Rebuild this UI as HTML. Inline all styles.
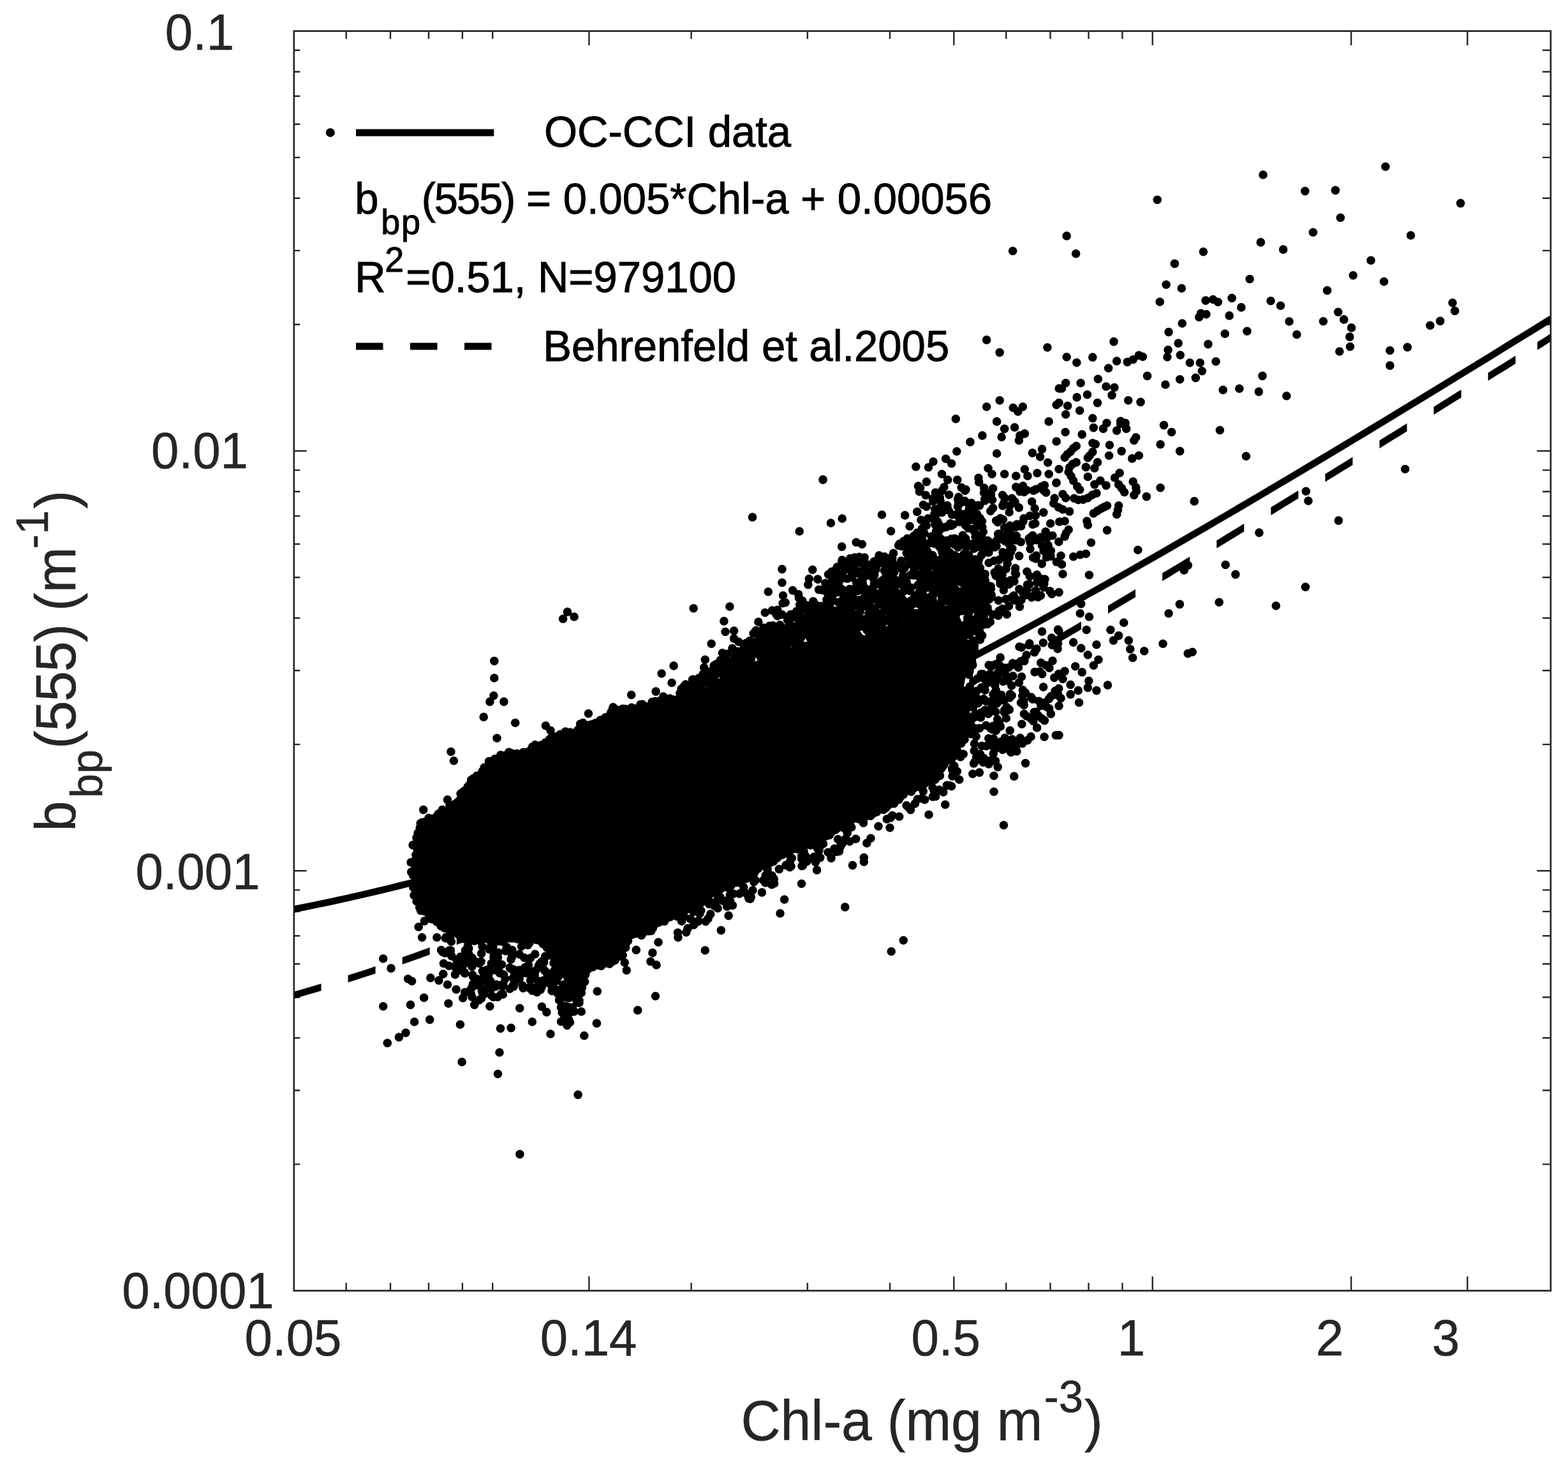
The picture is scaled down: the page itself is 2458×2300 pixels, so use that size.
<!DOCTYPE html>
<html lang="en"><head><meta charset="utf-8"><title>bbp(555) vs Chl-a</title>
<style>
html,body{margin:0;padding:0;background:#fff;}
body{width:2458px;height:2300px;overflow:hidden;}
svg{display:block;}
text{font-family:"Liberation Sans",sans-serif;}
.tk{font-size:78px;fill:#262626;stroke:#262626;stroke-width:0.5px;}
.lb{font-size:86px;fill:#262626;stroke:#262626;stroke-width:0.5px;}
.lg{font-size:67px;fill:#000;stroke:#000;stroke-width:0.9px;}
</style></head><body>
<svg width="2458" height="2300" viewBox="0 0 2458 2300">
<rect x="0" y="0" width="2458" height="2300" fill="#fff"/>

<clipPath id="plotclip"><rect x="460.8" y="48.7" width="1970.1" height="1974.9"/></clipPath>
<g id="ticks" stroke="#262626" stroke-width="2.4" fill="none"><path d="M923.4,2023.6v-22.4M923.4,48.7v22.4M1495.3,2023.6v-22.4M1495.3,48.7v22.4M1806.7,2023.6v-22.4M1806.7,48.7v22.4M2118.1,2023.6v-22.4M2118.1,48.7v22.4M2300.3,2023.6v-22.4M2300.3,48.7v22.4M542.7,2023.6v-12.4M542.7,48.7v12.4M612.0,2023.6v-12.4M612.0,48.7v12.4M672.0,2023.6v-12.4M672.0,48.7v12.4M724.9,2023.6v-12.4M724.9,48.7v12.4M772.2,2023.6v-12.4M772.2,48.7v12.4M1083.6,2023.6v-12.4M1083.6,48.7v12.4M1265.8,2023.6v-12.4M1265.8,48.7v12.4M1395.0,2023.6v-12.4M1395.0,48.7v12.4M1577.2,2023.6v-12.4M1577.2,48.7v12.4M1646.5,2023.6v-12.4M1646.5,48.7v12.4M1706.5,2023.6v-12.4M1706.5,48.7v12.4M1759.4,2023.6v-12.4M1759.4,48.7v12.4M460.8,1825.4h9.5M2430.9,1825.4h-12.8M460.8,1709.5h9.5M2430.9,1709.5h-12.8M460.8,1627.3h9.5M2430.9,1627.3h-12.8M460.8,1563.5h9.5M2430.9,1563.5h-12.8M460.8,1511.3h9.5M2430.9,1511.3h-12.8M460.8,1467.3h9.5M2430.9,1467.3h-12.8M460.8,1429.1h9.5M2430.9,1429.1h-12.8M460.8,1395.4h9.5M2430.9,1395.4h-12.8M460.8,1365.3h19.8M2430.9,1365.3h-21.6M460.8,1167.1h9.5M2430.9,1167.1h-12.8M460.8,1051.2h9.5M2430.9,1051.2h-12.8M460.8,969.0h9.5M2430.9,969.0h-12.8M460.8,905.2h9.5M2430.9,905.2h-12.8M460.8,853.0h9.5M2430.9,853.0h-12.8M460.8,809.0h9.5M2430.9,809.0h-12.8M460.8,770.8h9.5M2430.9,770.8h-12.8M460.8,737.1h9.5M2430.9,737.1h-12.8M460.8,707.0h19.8M2430.9,707.0h-21.6M460.8,508.8h9.5M2430.9,508.8h-12.8M460.8,392.9h9.5M2430.9,392.9h-12.8M460.8,310.7h9.5M2430.9,310.7h-12.8M460.8,246.9h9.5M2430.9,246.9h-12.8M460.8,194.7h9.5M2430.9,194.7h-12.8M460.8,150.7h9.5M2430.9,150.7h-12.8M460.8,112.5h9.5M2430.9,112.5h-12.8M460.8,78.8h9.5M2430.9,78.8h-12.8"/></g>
<g id="fit-lines" fill="none" stroke="#000" clip-path="url(#plotclip)">
<path stroke-width="10.6" d="M460.8,1425.5 L477.2,1422.3 L493.6,1418.9 L510.1,1415.5 L526.5,1412.0 L542.9,1408.4 L559.3,1404.7 L575.8,1400.9 L592.2,1397.0 L608.6,1393.1 L625.0,1389.0 L641.5,1384.9 L657.9,1380.7 L674.3,1376.3 L690.7,1371.9 L707.2,1367.4 L723.6,1362.8 L740.0,1358.1 L756.4,1353.3 L772.9,1348.4 L789.3,1343.5 L805.7,1338.4 L822.1,1333.2 L838.6,1327.9 L855.0,1322.6 L871.4,1317.1 L887.8,1311.6 L904.3,1305.9 L920.7,1300.2 L937.1,1294.3 L953.5,1288.4 L970.0,1282.4 L986.4,1276.3 L1002.8,1270.0 L1019.2,1263.7 L1035.7,1257.4 L1052.1,1250.9 L1068.5,1244.3 L1084.9,1237.6 L1101.4,1230.9 L1117.8,1224.0 L1134.2,1217.1 L1150.6,1210.1 L1167.1,1203.0 L1183.5,1195.8 L1199.9,1188.6 L1216.3,1181.2 L1232.8,1173.8 L1249.2,1166.3 L1265.6,1158.8 L1282.0,1151.1 L1298.5,1143.4 L1314.9,1135.6 L1331.3,1127.7 L1347.7,1119.8 L1364.2,1111.8 L1380.6,1103.7 L1397.0,1095.6 L1413.4,1087.4 L1429.9,1079.1 L1446.3,1070.8 L1462.7,1062.4 L1479.1,1053.9 L1495.6,1045.4 L1512.0,1036.8 L1528.4,1028.2 L1544.8,1019.5 L1561.3,1010.8 L1577.7,1002.0 L1594.1,993.2 L1610.5,984.3 L1627.0,975.4 L1643.4,966.4 L1659.8,957.4 L1676.2,948.3 L1692.7,939.2 L1709.1,930.0 L1725.5,920.8 L1741.9,911.6 L1758.4,902.3 L1774.8,893.0 L1791.2,883.7 L1807.6,874.3 L1824.1,864.9 L1840.5,855.4 L1856.9,845.9 L1873.3,836.4 L1889.8,826.9 L1906.2,817.3 L1922.6,807.7 L1939.0,798.1 L1955.5,788.4 L1971.9,778.7 L1988.3,769.0 L2004.7,759.3 L2021.2,749.5 L2037.6,739.7 L2054.0,729.9 L2070.4,720.1 L2086.9,710.2 L2103.3,700.4 L2119.7,690.5 L2136.1,680.6 L2152.6,670.6 L2169.0,660.7 L2185.4,650.7 L2201.8,640.7 L2218.3,630.7 L2234.7,620.7 L2251.1,610.7 L2267.5,600.7 L2284.0,590.6 L2300.4,580.5 L2316.8,570.5 L2333.2,560.4 L2349.7,550.3 L2366.1,540.1 L2382.5,530.0 L2398.9,519.9 L2415.4,509.7 L2431.8,499.5"/>
<path fill="#000" stroke="none" d="M460.8,1554.8 L467.9,1552.8 L475.0,1550.7 L482.1,1548.6 L489.3,1546.5 L496.4,1544.3 L503.5,1542.2 L503.5,1553.3 L496.4,1555.4 L489.3,1557.5 L482.1,1559.6 L475.0,1561.7 L467.9,1563.8 L460.8,1565.9ZM545.6,1529.1 L552.8,1526.8 L559.9,1524.5 L567.1,1522.2 L574.3,1519.9 L581.4,1517.5 L588.6,1515.1 L588.6,1526.3 L581.4,1528.7 L574.3,1531.0 L567.1,1533.3 L559.9,1535.7 L552.8,1538.0 L545.6,1540.2ZM630.7,1500.8 L637.9,1498.3 L645.0,1495.7 L652.2,1493.2 L659.4,1490.6 L666.5,1488.1 L673.7,1485.5 L673.7,1496.7 L666.5,1499.3 L659.4,1501.9 L652.2,1504.4 L645.0,1507.0 L637.9,1509.5 L630.7,1512.0ZM715.8,1469.9 L723.0,1467.1 L730.1,1464.4 L737.3,1461.7 L744.5,1458.9 L751.6,1456.1 L758.8,1453.3 L758.8,1464.7 L751.6,1467.5 L744.5,1470.3 L737.3,1473.0 L730.1,1475.8 L723.0,1478.5 L715.8,1481.2ZM800.9,1436.5 L808.1,1433.6 L815.2,1430.6 L822.4,1427.7 L829.6,1424.7 L836.7,1421.7 L843.9,1418.7 L843.9,1430.2 L836.7,1433.2 L829.6,1436.2 L822.4,1439.1 L815.2,1442.1 L808.1,1445.0 L800.9,1447.9ZM886.0,1400.8 L893.2,1397.6 L900.3,1394.5 L907.5,1391.4 L914.7,1388.2 L921.8,1385.0 L929.0,1381.8 L929.0,1393.4 L921.8,1396.6 L914.7,1399.8 L907.5,1402.9 L900.3,1406.1 L893.2,1409.2 L886.0,1412.3ZM971.1,1362.8 L978.3,1359.5 L985.4,1356.2 L992.6,1352.9 L999.8,1349.5 L1006.9,1346.2 L1014.1,1342.8 L1014.1,1354.5 L1006.9,1357.9 L999.8,1361.2 L992.6,1364.5 L985.4,1367.9 L978.3,1371.2 L971.1,1374.4ZM1056.2,1322.7 L1063.4,1319.3 L1070.5,1315.8 L1077.7,1312.3 L1084.9,1308.8 L1092.0,1305.3 L1099.2,1301.8 L1099.2,1313.6 L1092.0,1317.1 L1084.9,1320.6 L1077.7,1324.1 L1070.5,1327.6 L1063.4,1331.1 L1056.2,1334.5ZM1141.3,1280.8 L1148.5,1277.2 L1155.6,1273.6 L1162.8,1270.0 L1170.0,1266.3 L1177.1,1262.7 L1184.3,1259.0 L1184.3,1270.9 L1177.1,1274.6 L1170.0,1278.2 L1162.8,1281.8 L1155.6,1285.5 L1148.5,1289.1 L1141.3,1292.7ZM1226.4,1237.2 L1233.6,1233.5 L1240.7,1229.7 L1247.9,1225.9 L1255.1,1222.2 L1262.2,1218.4 L1269.4,1214.6 L1269.4,1226.6 L1262.2,1230.4 L1255.1,1234.1 L1247.9,1237.9 L1240.7,1241.7 L1233.6,1245.4 L1226.4,1249.2ZM1311.5,1192.1 L1318.7,1188.2 L1325.8,1184.3 L1333.0,1180.4 L1340.2,1176.5 L1347.3,1172.6 L1354.5,1168.7 L1354.5,1180.8 L1347.3,1184.7 L1340.2,1188.6 L1333.0,1192.5 L1325.8,1196.4 L1318.7,1200.2 L1311.5,1204.1ZM1396.6,1145.6 L1403.8,1141.6 L1410.9,1137.6 L1418.1,1133.7 L1425.3,1129.7 L1432.4,1125.7 L1439.6,1121.7 L1439.6,1133.8 L1432.4,1137.8 L1425.3,1141.8 L1418.1,1145.8 L1410.9,1149.8 L1403.8,1153.7 L1396.6,1157.7ZM1481.7,1097.9 L1488.9,1093.9 L1496.0,1089.8 L1503.2,1085.7 L1510.4,1081.7 L1517.5,1077.6 L1524.7,1073.5 L1524.7,1085.7 L1517.5,1089.8 L1510.4,1093.9 L1503.2,1097.9 L1496.0,1102.0 L1488.9,1106.1 L1481.7,1110.1ZM1566.8,1049.3 L1574.0,1045.2 L1581.1,1041.0 L1588.3,1036.9 L1595.5,1032.7 L1602.6,1028.5 L1609.8,1024.4 L1609.8,1036.6 L1602.6,1040.8 L1595.5,1045.0 L1588.3,1049.1 L1581.1,1053.3 L1574.0,1057.4 L1566.8,1061.5ZM1651.9,999.8 L1659.1,995.6 L1666.2,991.4 L1673.4,987.1 L1680.6,982.9 L1687.7,978.7 L1694.9,974.5 L1694.9,986.8 L1687.7,991.0 L1680.6,995.2 L1673.4,999.4 L1666.2,1003.7 L1659.1,1007.9 L1651.9,1012.1ZM1737.0,949.5 L1744.2,945.3 L1751.3,941.0 L1758.5,936.7 L1765.7,932.4 L1772.8,928.2 L1780.0,923.9 L1780.0,936.2 L1772.8,940.5 L1765.7,944.8 L1758.5,949.1 L1751.3,953.3 L1744.2,957.6 L1737.0,961.9ZM1822.1,898.6 L1829.3,894.3 L1836.4,890.0 L1843.6,885.7 L1850.8,881.4 L1857.9,877.0 L1865.1,872.7 L1865.1,885.1 L1857.9,889.4 L1850.8,893.7 L1843.6,898.1 L1836.4,902.4 L1829.3,906.7 L1822.1,911.0ZM1907.2,847.2 L1914.4,842.9 L1921.5,838.5 L1928.7,834.1 L1935.9,829.8 L1943.0,825.4 L1950.2,821.0 L1950.2,833.5 L1943.0,837.8 L1935.9,842.2 L1928.7,846.5 L1921.5,850.9 L1914.4,855.3 L1907.2,859.6ZM1992.3,795.3 L1999.5,790.9 L2006.6,786.6 L2013.8,782.2 L2021.0,777.8 L2028.1,773.4 L2035.3,769.0 L2035.3,781.4 L2028.1,785.8 L2021.0,790.2 L2013.8,794.6 L2006.6,799.0 L1999.5,803.4 L1992.3,807.8ZM2077.4,743.1 L2084.6,738.7 L2091.7,734.2 L2098.9,729.8 L2106.1,725.4 L2113.2,721.0 L2120.4,716.5 L2120.4,729.0 L2113.2,733.4 L2106.1,737.8 L2098.9,742.3 L2091.7,746.7 L2084.6,751.1 L2077.4,755.5ZM2162.5,690.5 L2169.7,686.1 L2176.8,681.6 L2184.0,677.2 L2191.2,672.7 L2198.3,668.3 L2205.5,663.8 L2205.5,676.3 L2198.3,680.8 L2191.2,685.2 L2184.0,689.6 L2176.8,694.1 L2169.7,698.5 L2162.5,703.0ZM2247.6,637.7 L2254.8,633.2 L2261.9,628.7 L2269.1,624.3 L2276.3,619.8 L2283.4,615.3 L2290.6,610.9 L2290.6,623.4 L2283.4,627.8 L2276.3,632.3 L2269.1,636.8 L2261.9,641.2 L2254.8,645.7 L2247.6,650.1ZM2332.7,584.6 L2339.9,580.1 L2347.0,575.6 L2354.2,571.2 L2361.4,566.7 L2368.5,562.2 L2375.7,557.7 L2375.7,570.2 L2368.5,574.7 L2361.4,579.2 L2354.2,583.7 L2347.0,588.1 L2339.9,592.6 L2332.7,597.1ZM2410.0,536.2 L2413.5,534.1 L2417.0,531.9 L2420.4,529.7 L2423.9,527.5 L2427.4,525.3 L2430.9,523.1 L2430.9,535.6 L2427.4,537.8 L2423.9,540.0 L2420.4,542.2 L2417.0,544.4 L2413.5,546.6 L2410.0,548.7Z"/>
</g>
<g id="scatter">
<path fill="#000" d="M645.6,1371.6 L645.6,1350.7 L650.0,1324.0 L658.6,1288.9 L672.8,1280.7 L700.3,1265.4 L721.9,1243.9 L743.0,1216.6 L763.5,1193.0 L778.3,1187.2 L795.7,1175.3 L816.9,1178.4 L835.4,1166.2 L850.5,1163.2 L874.5,1148.1 L895.8,1145.1 L911.0,1132.9 L938.1,1126.8 L959.2,1111.9 L991.8,1105.9 L1019.5,1100.5 L1034.3,1091.5 L1057.9,1090.7 L1058.4,1100.2 L1121.9,1070.1 L1166.8,1040.1 L1241.5,1025.2 L1332.6,1019.0 L1393.5,979.5 L1453.1,949.7 L1496.1,949.3 L1515.9,992.8 L1518.8,1034.1 L1509.8,1082.2 L1503.8,1142.4 L1485.9,1202.0 L1474.5,1217.7 L1451.0,1230.1 L1420.6,1245.4 L1390.5,1269.4 L1360.7,1281.3 L1330.4,1293.5 L1300.1,1311.7 L1270.1,1326.7 L1239.9,1338.8 L1209.4,1354.0 L1179.2,1375.1 L1149.4,1390.1 L1119.0,1402.3 L1088.7,1423.4 L1058.6,1438.5 L1032.0,1453.6 L1011.2,1465.4 L989.2,1472.0 L976.9,1499.5 L956.8,1513.7 L926.5,1520.0 L910.7,1535.6 L897.7,1549.8 L884.9,1535.7 L870.7,1516.7 L853.4,1486.6 L830.9,1473.2 L787.8,1477.3 L750.1,1477.3 L721.4,1473.3 L700.9,1458.8 L669.4,1437.8 L655.2,1423.7 L649.2,1409.7 L646.5,1394.7Z"/>
<path fill="none" stroke="#000" stroke-width="13.6" stroke-linecap="round" d="M758.2,1124.1h0M807.7,1133.2h0M779.0,1157.3h0M706.9,1178.5h0M711.4,1192.7h0M922.4,1118.7h0M855.4,1137.7h0M863.0,1145.3h0M701.5,1253.9h0M663.7,1269.6h0M600.7,1503.0h0M613.0,1518.1h0M639.6,1534.7h0M645.6,1538.3h0M674.9,1533.1h0M694.8,1527.1h0M687.9,1537.1h0M701.5,1543.7h0M715.1,1551.3h0M728.6,1555.8h0M725.6,1564.8h0M664.6,1564.2h0M643.5,1575.4h0M600.7,1577.8h0M703.0,1573.3h0M743.7,1575.4h0M751.3,1567.9h0M758.8,1558.8h0M767.9,1577.8h0M780.0,1563.3h0M649.6,1602.0h0M673.7,1598.6h0M721.4,1606.2h0M636.0,1619.2h0M625.4,1626.1h0M607.3,1635.2h0M784.5,1612.5h0M801.1,1611.6h0M783.0,1650.0h0M814.7,1580.8h0M834.3,1602.0h0M849.4,1578.4h0M856.9,1586.9h0M863.0,1621.0h0M881.1,1587.5h0M887.1,1602.6h0M911.3,1586.0h0M915.8,1623.7h0M936.3,1554.3h0M935.4,1604.4h0M999.7,1583.9h0M1027.5,1561.8h0M1029.0,1512.9h0M1019.9,1507.5h0M1022.9,1493.9h0M1032.0,1477.3h0M997.3,1489.4h0M982.2,1521.1h0M979.2,1509.0h0M656.2,1453.2h0M665.3,1444.1h0M661.6,1469.8h0M684.9,1469.8h0M693.9,1492.4h0M695.4,1510.5h0M713.5,1516.5h0M721.1,1521.1h0M740.7,1528.6h0M751.3,1510.5h0M761.8,1521.1h0M764.9,1534.7h0M784.5,1525.6h0M792.0,1534.7h0M804.1,1545.2h0M819.2,1545.2h0M776.9,1546.7h0M841.8,1555.8h0M834.3,1531.6h0M843.3,1537.7h0M825.2,1525.6h0M864.5,1545.2h0M876.5,1567.9h0M882.6,1576.9h0M891.6,1564.8h0M903.7,1552.8h0M912.8,1542.2h0M894.7,1534.7h0M647.1,1324.9h0M644.1,1352.0h0M644.7,1367.1h0M1105.3,1490.0h0M1130.3,1458.6h0M1142.1,1435.6h0M1176.2,1409.1h0M1229.6,1410.3h0M1223.0,1432.0h0M1256.5,1385.5h0M1280.6,1364.1h0M1324.7,1422.1h0M1336.5,1356.6h0M1354.3,1344.5h0M1354.3,1351.1h0M1303.0,1345.4h0M1311.1,1335.4h0M1397.2,1491.8h0M1416.2,1474.3h0M1456.0,1277.2h0M1481.7,1261.5h0M1434.3,1260.0h0M1558.0,1241.3h0M1573.4,1293.8h0M1589.7,1217.1h0M1607.5,1196.6h0M1558.0,1216.2h0M1564.1,1202.6h0M1637.1,1155.2h0M1655.2,1152.8h0M1503.7,1222.2h0M1491.6,1232.8h0M1464.5,1240.4h0M1524.8,1213.2h0M1535.4,1211.1h0M1395.0,1297.7h0M1358.8,1321.9h0M1364.9,1314.3h0M1319.6,1323.4h0M1313.5,1315.8h0M1280.3,1347.5h0M1238.1,1359.6h0M1221.5,1362.6h0M1200.4,1377.1h0M1078.1,1455.6h0M1063.0,1469.8h0M1094.7,1443.5h0M1144.5,1412.4h0M1691.5,1101.5h0M774.8,1036.4h0M774.8,1063.0h0M773.9,1090.7h0M767.9,1100.1h0M789.9,1100.1h0M882.6,970.3h0M889.5,959.4h0M900.1,967.0h0M1037.1,1056.0h0M1056.1,1043.9h0M1053.1,1070.5h0M1028.1,1084.1h0M989.7,1089.5h0M961.1,1108.8h0M1824.5,666.6h0M1836.6,677.5h0M1819.1,696.8h0M1849.6,707.4h0M1912.3,674.5h0M1953.4,715.2h0M2202.7,735.5h0M1819.1,764.7h0M1797.3,778.6h0M1872.2,785.9h0M1783.8,862.2h0M1735.5,831.4h0M1710.4,850.8h0M1707.4,901.5h0M2047.3,770.2h0M2050.9,785.3h0M1973.9,835.1h0M2098.3,816.1h0M1921.1,885.5h0M1936.8,900.6h0M2046.4,920.2h0M1911.1,944.3h0M2000.2,949.8h0M1849.3,947.4h0M1832.0,961.8h0M1761.7,976.3h0M1740.9,987.5h0M1753.6,996.6h0M1745.4,1004.1h0M1769.3,1004.1h0M1771.7,1017.7h0M1775.6,1031.3h0M1793.7,1020.7h0M1823.0,1009.2h0M1862.2,1024.6h0M1869.2,1022.2h0M1703.2,987.5h0M1707.4,967.0h0M1693.2,961.8h0M1694.7,946.7h0M1718.9,1010.7h0M1694.7,1016.2h0M1682.6,1007.1h0M1705.3,1026.7h0M1721.9,1034.3h0M1714.3,1043.3h0M1685.7,1044.8h0M1696.2,1053.9h0M1736.4,1074.1h0M1669.1,1052.4h0M1666.0,1064.5h0M1678.1,1073.5h0M1690.2,1082.6h0M1706.8,1067.5h0M1718.9,1082.6h0M1705.3,1078.1h0M1678.1,1088.6h0M1663.0,1094.7h0M1660.0,1106.7h0M1660.0,1152.6h0M1856.2,893.9h0M1862.2,886.4h0M1670.0,677.5h0M1696.2,681.1h0M1714.3,670.6h0M1729.4,672.1h0M1750.6,675.1h0M1765.6,672.1h0M1756.6,664.5h0M1780.7,685.7h0M1739.4,697.7h0M1712.8,694.7h0M1687.2,699.2h0M1678.1,708.3h0M1669.1,717.3h0M1758.1,707.4h0M1738.5,714.3h0M1708.3,714.3h0M1720.4,724.9h0M1715.8,734.0h0M1702.3,732.4h0M1705.3,747.5h0M1687.2,724.9h0M1675.1,740.0h0M1682.6,753.6h0M1688.7,762.6h0M1785.3,714.3h0M1774.7,718.9h0M1755.1,741.5h0M1747.5,749.0h0M1753.6,759.6h0M1762.6,771.7h0M1776.2,755.1h0M1780.7,764.1h0M1777.7,776.2h0M1724.9,753.6h0M1734.0,761.1h0M1715.8,759.6h0M1718.9,773.2h0M1705.3,780.7h0M1690.2,783.8h0M1666.0,774.7h0M1670.6,780.7h0M1735.5,792.8h0M1726.4,797.3h0M1714.3,804.9h0M1753.6,792.8h0M1750.6,806.4h0M1703.8,817.0h0M1705.3,823.0h0M1676.6,801.9h0M1666.0,798.8h0M1669.1,817.0h0M1675.1,830.5h0M1669.1,841.1h0M1682.6,872.8h0M1693.2,869.8h0M1702.3,868.3h0M1663.0,871.3h0M1664.5,884.9h0M1666.0,900.0h0M1660.0,928.6h0M1660.0,735.5h0M2171.9,261.3h0M1980.0,274.0h0M2045.8,299.6h0M2093.4,298.4h0M1814.2,313.2h0M2101.3,341.3h0M2058.4,364.2h0M2211.5,369.0h0M1672.1,369.9h0M1686.6,397.7h0M1976.3,379.9h0M2011.6,391.1h0M1886.4,394.7h0M1841.4,413.4h0M2149.0,408.3h0M2121.2,431.8h0M2169.5,441.5h0M1959.1,437.5h0M1828.1,446.3h0M1852.3,452.0h0M2080.5,455.4h0M1818.2,473.2h0M1890.0,471.1h0M1901.5,469.5h0M1909.3,473.5h0M1931.1,467.4h0M1945.8,481.9h0M1992.0,471.7h0M2007.4,479.2h0M1927.1,494.9h0M1882.5,491.3h0M1890.9,492.8h0M1879.7,497.3h0M2097.7,489.2h0M2106.7,500.9h0M2074.4,503.7h0M2021.0,504.0h0M2118.5,513.9h0M1853.2,507.0h0M1832.0,520.6h0M1954.9,519.3h0M1920.2,523.3h0M2032.8,524.5h0M2115.8,528.1h0M2116.4,543.5h0M2099.8,551.0h0M2241.9,510.3h0M2257.6,503.4h0M1746.0,535.6h0M1847.1,538.1h0M1893.9,539.6h0M2206.3,544.4h0M2178.9,549.5h0M2178.9,573.1h0M1831.1,548.6h0M1829.9,559.8h0M1850.2,556.8h0M1785.3,557.1h0M1791.3,559.2h0M1776.2,563.7h0M1767.2,567.6h0M1750.6,566.1h0M1712.8,560.1h0M1672.1,559.8h0M1687.8,568.5h0M1737.6,577.3h0M1865.3,568.8h0M1881.2,568.8h0M1884.3,581.8h0M1906.0,566.7h0M1874.3,592.4h0M1849.6,594.8h0M1826.9,603.0h0M1798.5,589.4h0M1979.0,589.4h0M1721.3,594.2h0M1694.1,600.5h0M1670.6,600.5h0M1664.5,609.0h0M1734.0,606.0h0M1746.9,607.5h0M1743.0,619.6h0M1704.4,618.7h0M1688.1,622.9h0M1917.2,611.4h0M1942.8,609.3h0M1973.3,614.1h0M2016.8,620.8h0M1768.7,627.7h0M1788.0,630.4h0M1720.4,631.6h0M1660.0,631.6h0M1673.6,636.2h0M1692.6,643.7h0M1670.6,649.7h0M1712.8,655.8h0M1756.6,660.3h0M1764.1,663.3h0M1734.9,663.3h0M1777.7,690.5h0M1717.3,696.5h0M1712.8,708.6h0M1705.3,717.7h0M1676.6,732.7h0M2289.6,318.6h0M2277.0,474.7h0M2280.6,487.4h0M1587.6,393.5h0M1546.6,532.9h0M1567.1,552.6h0M1641.9,544.7h0M1567.1,627.7h0M1546.6,637.7h0M1498.3,656.7h0M1588.2,639.2h0M1603.3,637.7h0M1595.8,645.2h0M1562.6,660.9h0M1644.1,660.9h0M1574.6,672.4h0M1590.6,670.0h0M1570.1,685.1h0M1539.9,682.9h0M1520.9,692.9h0M1598.8,682.9h0M1606.3,679.9h0M1597.3,690.5h0M1499.8,707.7h0M1562.6,711.0h0M1656.1,692.0h0M1482.6,719.2h0M1491.6,726.7h0M1463.0,723.7h0M1455.4,732.7h0M1435.8,731.8h0M1618.4,710.1h0M1633.5,704.1h0M1630.5,716.1h0M1642.6,725.2h0M1549.0,734.3h0M1555.0,743.3h0M1574.6,743.3h0M1592.7,746.3h0M1606.3,735.8h0M1610.9,746.3h0M1626.0,741.8h0M1476.5,743.3h0M1485.6,752.4h0M1500.7,752.4h0M1533.9,749.4h0M1452.4,755.4h0M1290.0,751.8h0M1644.1,743.3h0M1656.1,634.7h0M1660.1,609.0h0M1673.1,712.2h0M1682.6,702.7h0M1681.4,727.5h0M1679.0,746.5h0M1692.6,767.7h0M1712.2,776.0h0M1698.0,783.1h0M1683.8,781.3h0M1758.3,765.4h0M1781.3,770.1h0M1720.4,800.9h0M1731.1,794.9h0M1752.4,799.7h0M1659.5,795.5h0M1660.7,818.0h0M1671.3,835.8h0M724.1,1665.0h0M780.5,1683.8h0M906.1,1716.4h0M814.9,1809.6h0M885.1,1594.4h0M893.5,1602.8h0M899.9,1585.9h0M904.1,1569.0h0M910.4,1556.3h0M893.5,1579.6h0M897.8,1560.6h0M878.7,1552.1h0M883.0,1543.7h0M1290.0,752.1h0M1179.5,810.9h0M1253.2,833.0h0M1302.4,820.0h0M1320.2,813.0h0M1382.4,807.0h0M1418.6,807.9h0M1426.1,825.1h0M1396.6,832.7h0M1087.2,953.7h0M1143.9,951.0h0M1204.3,927.7h0M1226.0,892.4h0M1226.0,913.5h0M1227.5,933.8h0M1242.6,925.6h0M1251.7,931.7h0M1273.7,893.3h0M1268.3,907.5h0M1266.8,916.6h0M1281.9,908.1h0M1298.5,900.6h0M1319.6,857.1h0M1342.2,850.2h0M1351.3,853.2h0M1408.6,855.3h0M1431.3,857.1h0M1134.9,973.9h0M1137.0,990.5h0M1150.6,989.0h0M1150.6,1001.1h0M1115.2,1009.2h0M1105.3,1034.3h0M1132.4,1023.7h0M1140.0,1025.2h0M652.5,1369.5h0M650.5,1362.0h0M651.2,1359.1h0M651.5,1352.8h0M649.6,1351.1h0M652.4,1344.9h0M651.9,1340.2h0M654.8,1334.2h0M653.4,1329.2h0M655.6,1327.1h0M656.3,1322.2h0M658.2,1319.7h0M652.9,1313.6h0M656.3,1306.5h0M655.0,1306.1h0M658.2,1297.9h0M663.2,1297.6h0M659.2,1290.7h0M661.6,1289.5h0M665.6,1288.8h0M672.0,1282.6h0M679.0,1283.4h0M683.9,1280.8h0M687.0,1276.4h0M688.6,1275.2h0M693.4,1269.6h0M698.5,1273.2h0M704.9,1262.5h0M708.5,1264.9h0M713.7,1260.4h0M717.0,1258.1h0M721.8,1253.1h0M722.1,1244.4h0M725.6,1241.7h0M727.9,1239.8h0M733.2,1235.2h0M733.3,1233.4h0M737.2,1228.6h0M738.6,1222.9h0M741.9,1220.6h0M747.4,1216.3h0M750.6,1216.8h0M756.0,1210.0h0M756.2,1209.1h0M759.2,1203.3h0M763.3,1204.0h0M766.8,1198.1h0M766.5,1193.5h0M769.7,1194.4h0M775.6,1189.8h0M785.2,1187.5h0M784.7,1183.9h0M790.3,1184.8h0M797.1,1181.5h0M797.7,1179.2h0M800.6,1180.4h0M808.1,1182.1h0M810.3,1181.5h0M820.2,1179.6h0M826.7,1179.4h0M833.6,1173.1h0M834.6,1170.7h0M838.8,1167.9h0M844.9,1169.6h0M848.0,1168.3h0M854.7,1164.2h0M861.0,1164.4h0M861.6,1158.7h0M864.1,1156.8h0M872.0,1154.7h0M875.6,1153.6h0M878.3,1151.3h0M881.6,1154.0h0M886.4,1147.1h0M893.7,1148.1h0M904.2,1147.1h0M906.1,1144.2h0M909.1,1141.9h0M909.6,1135.0h0M913.9,1133.4h0M916.3,1136.8h0M924.4,1136.9h0M926.2,1136.2h0M933.4,1133.5h0M936.5,1134.3h0M941.1,1129.0h0M948.9,1124.9h0M952.3,1125.1h0M955.2,1122.1h0M958.1,1116.4h0M960.3,1111.9h0M964.8,1111.9h0M969.1,1113.5h0M975.8,1111.3h0M980.1,1111.5h0M987.0,1112.9h0M990.0,1109.2h0M996.4,1111.0h0M999.5,1111.4h0M1004.0,1104.5h0M1007.2,1104.2h0M1014.2,1108.6h0M1017.8,1107.7h0M1022.2,1100.5h0M1027.2,1099.5h0M1033.5,1099.4h0M1038.5,1097.9h0M1039.7,1092.0h0M1045.7,1097.1h0M1049.9,1095.1h0M1055.0,1097.1h0M1473.4,1216.2h0M1469.1,1217.3h0M1466.1,1222.1h0M1458.8,1225.4h0M1453.9,1225.0h0M1450.1,1227.8h0M1449.5,1228.8h0M1440.0,1227.9h0M1440.9,1233.5h0M1433.4,1235.5h0M1431.0,1234.4h0M1428.4,1241.3h0M1422.2,1239.6h0M1416.3,1245.8h0M1412.9,1248.3h0M1409.1,1253.7h0M1404.4,1249.6h0M1401.4,1259.9h0M1397.4,1258.4h0M1392.6,1262.5h0M1390.2,1262.9h0M1388.4,1266.9h0M1385.1,1269.5h0M1376.5,1270.4h0M1374.5,1273.0h0M1369.2,1275.1h0M1366.4,1276.9h0M1364.7,1279.2h0M1356.0,1280.9h0M1354.5,1281.0h0M1350.4,1280.9h0M1345.7,1284.0h0M1340.0,1282.8h0M1333.8,1286.5h0M1329.9,1286.3h0M1327.0,1293.8h0M1320.0,1294.2h0M1319.6,1296.8h0M1313.3,1297.9h0M1309.8,1300.9h0M1303.5,1304.7h0M1300.5,1309.2h0M1295.3,1310.7h0M1290.0,1312.8h0M1288.1,1315.0h0M1282.1,1318.3h0M1276.3,1317.0h0M1275.8,1321.5h0M1270.6,1325.1h0M1267.3,1322.6h0M1262.5,1325.1h0M1259.6,1326.3h0M1253.8,1331.2h0M1250.9,1331.5h0M1243.2,1331.1h0M1242.1,1331.6h0M1236.6,1339.7h0M1231.6,1337.5h0M1226.3,1340.2h0M1224.3,1340.6h0M1218.2,1345.3h0M1214.8,1346.5h0M1212.6,1350.6h0M1206.5,1353.3h0M1202.9,1357.7h0M1195.1,1356.5h0M1192.2,1357.6h0M1188.1,1362.3h0M1183.5,1365.5h0M1182.6,1368.4h0M1178.0,1372.5h0M1173.4,1372.7h0M1172.1,1372.3h0M1169.6,1377.6h0M1162.7,1381.4h0M1156.1,1379.9h0M1156.5,1383.8h0M1151.5,1383.8h0M1146.0,1388.8h0M1142.4,1392.5h0M1134.9,1390.7h0M1132.6,1389.4h0M1130.2,1393.5h0M1123.2,1394.8h0M1122.3,1398.5h0M1114.1,1401.3h0M1111.2,1400.8h0M1109.5,1407.6h0M1100.0,1407.3h0M1099.7,1415.0h0M1093.7,1413.3h0M1091.6,1419.7h0M1087.9,1415.7h0M1085.9,1421.5h0M1084.3,1425.2h0M1075.8,1426.1h0M1071.0,1425.2h0M1067.6,1431.9h0M1066.6,1432.9h0M1061.2,1436.6h0M1054.3,1434.6h0M1050.9,1437.4h0M1046.5,1438.6h0M1041.6,1444.5h0M1035.4,1444.7h0M1033.4,1445.9h0M1025.2,1450.5h0M1023.4,1454.9h0M1020.8,1459.4h0M1017.2,1459.6h0M1010.8,1460.6h0M1007.9,1460.6h0M1005.6,1466.5h0M996.0,1463.8h0M989.8,1465.6h0M984.5,1474.9h0M981.1,1479.5h0M980.7,1485.6h0M975.9,1486.2h0M974.4,1489.9h0M976.2,1497.5h0M972.8,1499.1h0M968.5,1499.2h0M964.2,1505.5h0M960.1,1507.5h0M955.5,1511.1h0M955.2,1509.5h0M949.8,1510.0h0M942.5,1514.5h0M938.5,1513.5h0M933.7,1512.0h0M929.4,1516.3h0M922.0,1519.4h0M917.8,1527.6h0M917.7,1528.1h0M910.5,1533.9h0M903.7,1534.7h0M904.6,1538.1h0M895.6,1541.8h0M899.0,1546.7h0M900.0,1543.6h0M896.4,1540.3h0M894.0,1535.1h0M890.0,1533.2h0M888.7,1529.4h0M885.3,1525.8h0M883.2,1522.6h0M880.0,1519.3h0M875.5,1516.9h0M871.4,1512.8h0M868.0,1509.9h0M870.2,1503.6h0M865.8,1499.0h0M862.6,1493.8h0M862.7,1493.3h0M857.2,1485.6h0M851.6,1480.3h0M849.4,1476.5h0M846.8,1475.2h0M840.9,1473.5h0M834.9,1472.5h0M828.3,1468.1h0M824.5,1467.5h0M818.6,1473.5h0M814.5,1470.5h0M810.8,1472.1h0M804.0,1471.0h0M799.4,1471.0h0M794.5,1470.9h0M788.9,1476.7h0M783.6,1472.9h0M783.1,1475.7h0M776.2,1474.1h0M770.5,1476.0h0M766.4,1473.3h0M763.5,1470.6h0M758.6,1471.4h0M750.2,1474.3h0M750.9,1472.6h0M743.5,1475.2h0M738.9,1472.5h0M734.9,1470.4h0M730.4,1473.0h0M723.5,1471.6h0M723.3,1466.7h0M719.4,1466.0h0M712.9,1461.7h0M706.1,1460.7h0M704.1,1457.1h0M700.7,1453.1h0M697.1,1455.1h0M691.3,1452.0h0M687.7,1446.4h0M684.5,1445.2h0M682.6,1441.2h0M676.5,1441.0h0M672.9,1432.5h0M672.7,1434.7h0M666.2,1429.0h0M659.6,1427.7h0M657.7,1422.8h0M657.8,1422.4h0M657.2,1413.9h0M653.2,1413.3h0M650.8,1404.5h0M649.0,1403.7h0M651.6,1397.2h0M647.8,1391.0h0M647.0,1385.9h0M651.5,1385.3h0M651.2,1378.0h0M647.5,1372.2h0M1070.6,1099.2h0M1068.6,1087.3h0M1078.9,1093.7h0M1069.0,1084.1h0M1082.5,1085.4h0M1092.8,1082.4h0M1088.5,1080.4h0M1093.6,1074.3h0M1101.0,1071.4h0M1114.1,1070.9h0M1112.5,1073.8h0M1117.9,1074.8h0M1116.8,1074.2h0M1130.2,1069.6h0M1120.3,1060.3h0M1128.5,1052.3h0M1140.9,1064.6h0M1141.0,1045.7h0M1152.4,1050.6h0M1143.6,1044.8h0M1159.6,1041.8h0M1161.8,1041.7h0M1165.1,1033.9h0M1173.9,1042.8h0M1170.5,1041.8h0M1172.7,1041.2h0M1193.1,1031.1h0M1193.7,1036.5h0M1199.1,1039.1h0M1204.6,1037.3h0M1209.7,1028.4h0M1211.4,1030.5h0M1208.4,1024.6h0M1213.0,1023.3h0M1217.6,1031.9h0M1230.3,1032.9h0M1234.5,1018.4h0M1233.9,1029.7h0M1239.0,1026.6h0M1244.3,1029.8h0M1249.3,1022.3h0M1261.1,1026.8h0M1270.9,1027.0h0M1260.0,1015.6h0M1277.0,1025.7h0M1282.5,1021.2h0M1283.0,1021.9h0M1296.3,1022.4h0M1288.0,1015.9h0M1295.6,1013.5h0M1308.7,1014.3h0M1303.3,1016.3h0M1319.2,1009.5h0M1310.3,1018.2h0M1320.4,1013.3h0M1325.1,1015.4h0M1331.7,1007.7h0M1340.5,1004.5h0M1334.8,1014.9h0M1346.0,1000.7h0M1356.0,1010.1h0M1362.9,992.1h0M1353.8,1003.0h0M1369.6,995.5h0M1362.7,997.5h0M1366.7,987.0h0M1376.0,984.4h0M1385.3,989.4h0M1383.6,973.0h0M1382.0,983.4h0M1396.5,968.8h0M1395.8,975.3h0M1407.3,963.7h0M1404.2,976.4h0M1409.0,966.1h0M1414.4,957.4h0M1422.9,960.0h0M1421.9,965.7h0M1429.0,960.1h0M1436.8,961.6h0M1444.3,959.1h0M1440.7,947.2h0M1453.4,951.9h0M1458.6,942.9h0M1454.0,951.4h0M1463.1,943.9h0M1466.3,948.2h0M1467.9,952.3h0M1479.1,942.7h0M1492.4,951.4h0M1492.0,944.5h0M1496.5,939.2h0M1505.2,949.9h0M1497.2,947.7h0M1508.1,957.8h0M1499.4,962.4h0M1513.5,978.8h0M1516.4,978.9h0M1507.7,986.9h0M1520.2,987.1h0M1523.3,990.3h0M1512.2,986.0h0M1516.2,995.1h0M1519.1,1009.8h0M1514.2,1015.6h0M1521.3,1023.1h0M1519.0,1013.5h0M1523.3,1034.6h0M1520.0,1028.0h0M1514.1,1041.5h0M1523.0,1036.9h0M1524.8,1042.6h0M1514.6,1054.9h0M1519.9,1052.2h0M1518.7,1057.6h0M1520.4,1076.4h0M1514.0,1082.7h0M1517.5,1085.7h0M1515.1,1090.5h0M1513.1,1094.7h0M1507.0,1097.4h0M1517.9,1104.1h0M1515.9,1099.5h0M1513.5,1118.2h0M1503.8,1115.7h0M1513.0,1115.6h0M1501.3,1133.4h0M1508.9,1122.8h0M1506.0,1130.3h0M1504.0,1139.2h0M1500.6,1142.5h0M1511.8,1152.7h0M1496.8,1156.2h0M1501.7,1165.1h0M1506.8,1165.5h0M1499.6,1170.3h0M1492.3,1172.9h0M1497.6,1173.6h0M1492.1,1189.2h0M1486.7,1192.2h0M1485.8,1190.0h0M1492.9,1206.9h0M1332.3,1002.7h0M1528.6,909.5h0M1320.0,945.8h0M1522.4,1038.7h0M1535.9,923.3h0M1166.6,1013.7h0M1292.1,999.0h0M1356.6,929.8h0M1310.2,1009.2h0M1548.1,978.4h0M1404.5,949.4h0M1483.4,923.8h0M1243.4,968.0h0M1324.3,987.7h0M1225.8,995.0h0M1293.5,983.2h0M1550.7,939.4h0M1514.2,926.5h0M1334.7,943.5h0M1438.5,943.1h0M1453.6,918.1h0M1466.8,914.6h0M1334.8,955.9h0M1522.6,1028.5h0M1523.7,955.3h0M1133.5,1058.4h0M1342.9,980.3h0M1136.9,1044.2h0M1478.3,916.0h0M1240.2,996.4h0M1150.4,1047.0h0M1476.6,908.5h0M1389.5,947.1h0M1525.5,954.5h0M1336.6,1000.1h0M1322.5,973.1h0M1523.6,974.7h0M1544.4,910.7h0M1282.5,993.9h0M1295.8,981.6h0M1386.8,945.7h0M1382.6,967.8h0M1430.6,942.9h0M1476.3,944.1h0M1529.7,1004.3h0M1207.4,1004.8h0M1423.4,923.5h0M1250.6,1012.4h0M1416.9,948.8h0M1507.0,890.0h0M1281.6,994.5h0M1433.7,933.6h0M1338.9,1002.0h0M1192.0,997.8h0M1354.5,937.0h0M1451.2,912.9h0M1218.1,983.9h0M1228.7,1018.9h0M1553.2,932.1h0M1374.0,987.6h0M1447.9,942.2h0M1185.6,1014.8h0M1528.7,891.0h0M1471.7,926.3h0M1479.3,909.3h0M1239.7,996.7h0M1140.1,1046.1h0M1441.2,904.9h0M1245.6,1007.9h0M1345.8,942.3h0M1505.1,928.8h0M1306.7,1008.4h0M1505.8,1150.5h0M1406.7,967.1h0M1378.9,971.3h0M1527.9,980.4h0M1362.3,930.4h0M1326.2,1009.8h0M1236.9,987.0h0M1434.3,897.5h0M1133.3,1041.7h0M1517.8,928.6h0M1207.1,1017.2h0M1244.5,1004.2h0M1412.2,953.1h0M1325.2,954.0h0M1224.8,1022.1h0M1327.7,983.6h0M1261.7,992.5h0M1267.1,981.8h0M1523.9,975.4h0M1263.7,975.7h0M1467.4,910.7h0M1296.3,969.7h0M1145.4,1043.4h0M1524.5,972.8h0M1201.1,990.8h0M1405.1,950.0h0M1275.7,1006.8h0M1171.8,1027.8h0M1333.1,1002.4h0M1267.1,1020.4h0M1215.1,1017.3h0M1380.9,939.2h0M1361.1,929.9h0M1442.8,923.7h0M1311.1,957.7h0M1282.0,963.3h0M1470.9,927.3h0M1169.8,1010.8h0M1219.8,1002.9h0M1492.1,918.8h0M1325.9,988.8h0M1390.7,931.5h0M1303.2,956.0h0M1420.2,918.7h0M1451.9,899.0h0M1535.8,990.1h0M1433.8,899.0h0M1528.3,889.7h0M1220.1,985.9h0M1530.4,970.0h0M1355.3,938.6h0M1078.4,1084.6h0M1283.6,967.1h0M1519.3,1051.0h0M1198.8,989.4h0M1542.3,933.4h0M1340.9,972.1h0M1488.7,944.5h0M1398.6,914.0h0M1223.6,995.1h0M1503.5,957.8h0M1478.8,917.0h0M1422.1,919.1h0M1303.8,990.5h0M1247.6,992.9h0M1509.3,1127.6h0M1463.4,908.4h0M1450.9,946.3h0M1543.9,918.6h0M1442.5,923.0h0M1226.1,1022.6h0M1332.7,975.1h0M1536.0,947.0h0M1156.3,1030.4h0M1509.0,882.0h0M1378.8,944.4h0M1199.8,1017.5h0M1271.6,988.6h0M1312.4,999.6h0M1520.2,881.3h0M1507.8,927.5h0M1274.8,973.2h0M1507.8,1138.3h0M1533.6,992.0h0M1324.2,959.7h0M1244.4,1020.0h0M1402.7,925.3h0M1501.3,928.4h0M1469.6,928.7h0M1506.1,884.1h0M1420.8,920.0h0M1406.3,929.7h0M1486.7,934.7h0M1364.4,960.4h0M1303.3,1000.4h0M1548.4,933.1h0M1235.6,995.4h0M1485.7,909.0h0M1333.1,977.4h0M1536.5,890.5h0M1332.9,945.6h0M1478.3,888.2h0M1503.5,1155.0h0M1274.7,1010.1h0M1518.2,933.2h0M1537.2,934.7h0M1265.2,970.5h0M1212.9,1022.3h0M1528.1,934.4h0M1461.9,937.1h0M1442.2,942.2h0M1489.8,940.3h0M1404.5,957.8h0M1331.2,938.7h0M1228.9,1018.1h0M1199.6,1012.1h0M1331.4,982.7h0M1399.6,948.9h0M1227.9,994.5h0M1469.9,929.2h0M1333.6,956.1h0M1511.8,1134.3h0M1230.9,1024.0h0M1446.2,897.5h0M1498.0,900.8h0M1401.6,949.3h0M1288.3,995.3h0M1414.9,912.6h0M1335.6,999.7h0M1541.0,913.3h0M1395.2,917.1h0M1523.0,978.7h0M1413.0,909.6h0M1352.9,977.5h0M1466.5,922.1h0M1349.6,1002.9h0M1408.5,937.8h0M1523.1,898.5h0M1489.4,915.3h0M1138.1,1049.6h0M1520.3,981.9h0M1220.5,1008.7h0M1542.2,979.2h0M1532.0,902.0h0M1294.2,997.4h0M1521.0,914.2h0M1478.7,938.3h0M1524.5,920.3h0M1363.4,951.0h0M1548.0,952.6h0M1260.2,980.4h0M1293.8,960.8h0M1276.8,1011.7h0M1385.3,944.1h0M1280.4,993.8h0M1330.2,985.1h0M1196.6,985.4h0M1253.2,1002.8h0M1326.3,993.2h0M1511.6,1110.6h0M1514.2,948.5h0M1456.1,899.4h0M1485.5,890.9h0M1291.2,1016.1h0M1367.6,922.4h0M1327.4,939.6h0M1445.5,949.6h0M1226.3,1004.3h0M1378.6,943.0h0M1189.9,1014.1h0M1431.8,946.4h0M1288.4,990.9h0M1407.5,934.3h0M1065.5,1093.4h0M1189.6,1021.8h0M1446.4,937.4h0M1311.6,1000.1h0M1364.0,962.1h0M1471.9,897.6h0M1315.2,994.4h0M1406.2,910.6h0M1275.7,968.0h0M1528.2,898.4h0M1217.4,983.1h0M1533.2,964.7h0M1193.5,1010.3h0M1500.3,896.0h0M1393.8,919.1h0M1300.9,995.1h0M1413.5,940.2h0M1532.7,936.6h0M1237.5,993.6h0M1350.9,1003.5h0M1517.6,972.1h0M1532.8,966.2h0M1211.0,984.2h0M1254.7,1010.0h0M1521.0,991.9h0M1346.3,940.7h0M1324.9,1006.7h0M1386.0,956.9h0M1520.0,933.8h0M1438.9,933.1h0M1133.0,1039.1h0M1200.5,1003.4h0M1292.5,953.0h0M1340.6,996.3h0M1151.4,1031.5h0M1452.0,891.2h0M1328.7,990.4h0M1512.0,915.1h0M1097.5,1074.2h0M1283.0,976.0h0M1512.1,953.2h0M1535.1,988.1h0M1320.5,941.7h0M1251.0,1019.5h0M1326.9,970.5h0M1174.1,1008.4h0M1280.7,973.5h0M1472.1,891.6h0M1521.7,1025.7h0M1518.4,1055.4h0M1447.6,902.5h0M1549.8,920.6h0M1307.6,968.8h0M1225.8,998.1h0M1512.5,1109.0h0M1507.2,910.8h0M1493.5,928.3h0M1317.9,968.7h0M1476.6,930.6h0M1533.1,893.9h0M1512.5,900.3h0M1276.7,1019.6h0M1511.3,948.3h0M1531.0,942.8h0M1526.1,980.3h0M1273.1,995.1h0M1320.9,980.8h0M1132.8,1049.6h0M1479.3,895.1h0M1554.1,936.1h0M1359.2,975.4h0M1431.7,902.0h0M1202.8,1012.1h0M1398.9,926.3h0M1127.6,1054.9h0M1511.8,1132.3h0M1228.9,991.5h0M1529.9,907.0h0M1192.6,993.3h0M1345.0,942.2h0M1525.2,1004.4h0M1333.0,948.2h0M1281.7,978.7h0M1140.0,1038.4h0M1209.9,1000.2h0M1325.8,999.1h0M1395.4,960.4h0M1487.3,889.0h0M1314.5,968.1h0M1370.4,939.4h0M1280.2,1014.0h0M1217.7,999.2h0M1531.5,944.8h0M1501.7,905.1h0M1367.2,989.6h0M1288.2,976.5h0M1397.3,953.2h0M1416.1,917.9h0M1247.3,994.4h0M1544.0,910.9h0M1268.9,992.9h0M1287.1,999.6h0M1511.3,925.8h0M1491.3,924.9h0M1539.6,977.8h0M1331.9,956.6h0M1281.1,960.3h0M1464.8,903.4h0M1316.4,961.2h0M1380.3,974.6h0M1349.6,978.4h0M1536.6,968.7h0M1327.1,989.8h0M1375.4,970.8h0M1442.5,919.6h0M1286.7,961.9h0M1394.5,947.2h0M1364.2,932.2h0M1237.2,981.8h0M1462.9,912.6h0M1400.0,960.6h0M1337.5,1000.5h0M1441.7,937.8h0M1222.6,979.7h0M1335.4,984.8h0M1298.9,1012.7h0M1236.9,969.3h0M1286.2,983.3h0M1230.7,1009.7h0M1362.6,981.7h0M1446.2,928.7h0M1417.3,911.1h0M1395.9,926.7h0M1131.7,1038.0h0M1329.7,980.5h0M1513.3,897.5h0M1414.9,939.8h0M1212.1,1010.7h0M1505.7,948.7h0M1329.5,1014.6h0M1334.8,988.9h0M1193.8,1010.6h0M1437.2,901.9h0M1482.9,908.1h0M1495.1,935.7h0M1296.6,977.6h0M1479.6,919.9h0M1339.8,940.6h0M1527.3,901.1h0M1165.5,1032.7h0M1325.2,979.5h0M1486.6,891.5h0M1187.1,1006.6h0M1429.9,945.6h0M1206.2,981.4h0M1283.8,990.5h0M1500.7,947.3h0M1212.9,1009.2h0M1253.1,968.8h0M1316.4,963.8h0M1244.9,1008.8h0M1169.5,1029.3h0M1281.3,964.5h0M1461.5,924.2h0M1452.6,902.9h0M1422.3,921.2h0M1328.2,1002.1h0M1510.1,925.9h0M1537.9,974.6h0M1484.1,904.3h0M1453.7,897.1h0M1445.3,937.1h0M1389.1,971.2h0M1527.4,973.6h0M1395.9,931.2h0M1318.5,999.0h0M1532.9,930.5h0M1395.2,939.4h0M1525.5,901.3h0M1399.3,952.7h0M1339.5,992.0h0M1341.0,979.3h0M1546.4,975.4h0M1395.4,958.1h0M1522.2,899.3h0M1228.8,997.1h0M1522.1,927.3h0M1411.9,931.9h0M1335.1,1000.6h0M1527.8,937.9h0M1353.4,971.1h0M1105.9,1060.8h0M1518.1,903.1h0M1411.5,944.0h0M1285.3,978.9h0M1448.4,939.2h0M1205.0,1012.4h0M1499.2,903.1h0M1361.5,935.8h0M1537.8,947.8h0M1114.5,1052.5h0M1538.5,917.4h0M1383.0,931.9h0M1357.1,950.5h0M1240.6,1004.9h0M1226.2,1010.9h0M1386.2,921.0h0M1172.4,1025.0h0M1438.9,917.2h0M1157.7,1034.7h0M1507.4,939.7h0M1197.0,1007.1h0M1410.1,913.8h0M1305.7,986.9h0M1388.3,933.8h0M1196.8,984.4h0M1383.4,934.2h0M1173.1,1035.6h0M1113.7,1053.4h0M1227.6,1001.1h0M1554.3,932.7h0M1524.7,972.6h0M1245.7,986.8h0M1509.3,1126.6h0M1394.4,960.4h0M1091.7,1070.9h0M1520.7,900.7h0M1496.5,1184.9h0M1527.3,941.6h0M1529.6,948.2h0M1345.1,996.3h0M1347.1,973.4h0M1361.8,961.7h0M1160.7,1030.4h0M1382.2,947.4h0M1178.7,1026.5h0M1236.1,1008.0h0M1489.3,907.1h0M1212.9,1015.8h0M1320.9,968.3h0M1136.0,1043.8h0M1101.8,1069.3h0M1213.8,991.5h0M1349.2,1001.0h0M1430.7,899.2h0M1346.1,997.9h0M1468.9,910.4h0M1254.8,1009.8h0M1407.1,940.2h0M1230.4,1018.3h0M1121.3,1049.3h0M1496.0,925.1h0M1359.2,988.2h0M1543.4,907.3h0M1336.3,966.7h0M1523.6,1007.0h0M1300.9,947.2h0M1296.0,994.4h0M1166.6,1021.7h0M1382.6,975.1h0M1482.1,907.4h0M1202.2,1025.2h0M1234.0,988.9h0M1462.6,914.1h0M1290.9,978.8h0M1175.2,1033.1h0M1292.0,985.1h0M1322.0,997.1h0M1426.3,926.3h0M1397.7,953.2h0M1490.7,903.9h0M1525.2,892.3h0M1515.5,883.2h0M1360.8,950.0h0M1489.6,906.5h0M1484.5,930.1h0M1299.4,1004.1h0M1232.7,995.2h0M1301.7,973.4h0M1470.2,892.5h0M1173.1,1026.4h0M1495.1,915.6h0M1340.3,991.5h0M1385.8,941.7h0M1334.8,974.7h0M1445.8,947.8h0M1237.0,995.3h0M1114.7,1058.4h0M1520.5,895.2h0M1418.3,945.1h0M1518.5,961.5h0M1518.1,919.4h0M1258.9,987.0h0M1529.8,896.9h0M1320.2,961.0h0M1456.3,915.8h0M1306.8,1007.8h0M1318.2,954.8h0M1444.0,909.3h0M1295.0,963.6h0M1277.5,1002.9h0M1401.9,926.0h0M1225.0,993.9h0M1276.6,1000.9h0M1190.3,1026.9h0M1478.9,894.8h0M1315.8,994.8h0M1163.3,1027.6h0M1486.2,907.5h0M1085.2,1076.1h0M1211.0,1014.7h0M1493.4,939.1h0M1455.0,937.2h0M1219.9,991.7h0M1191.3,994.4h0M1220.6,998.9h0M1307.4,957.9h0M1457.9,902.6h0M1279.7,959.8h0M1398.0,944.2h0M1102.2,1056.8h0M1321.2,981.2h0M1478.4,933.4h0M1282.6,1000.1h0M1118.6,1050.0h0M1065.9,1086.7h0M1372.0,953.3h0M1341.2,1009.4h0M1337.8,984.9h0M1291.6,1013.9h0M1199.1,1010.8h0M1344.6,963.8h0M1455.1,943.3h0M1207.9,1010.0h0M1449.2,902.0h0M1313.5,967.5h0M1123.0,1049.2h0M1170.5,1010.5h0M1255.0,1000.5h0M1328.5,955.8h0M1463.0,910.5h0M1227.5,992.5h0M1400.5,944.6h0M1181.1,993.3h0M1525.8,917.8h0M1303.7,965.8h0M1343.0,1006.3h0M1085.2,1084.5h0M1366.8,923.9h0M1151.3,1044.6h0M1247.9,981.9h0M1297.4,1016.4h0M1339.6,941.8h0M1338.7,992.0h0M1423.2,944.0h0M1480.6,901.2h0M1153.2,1026.6h0M1265.7,976.4h0M1239.5,980.4h0M1525.0,1004.5h0M1541.2,914.2h0M1281.8,977.9h0M1447.2,934.8h0M1248.7,1000.4h0M1144.1,1037.9h0M1116.2,1067.9h0M1252.7,973.1h0M1397.1,965.3h0M1454.6,892.4h0M1546.5,957.0h0M1321.2,1006.2h0M1489.8,938.1h0M1502.6,901.7h0M1526.6,934.0h0M1346.9,973.4h0M1440.4,929.7h0M1328.7,987.8h0M1526.0,1019.3h0M1467.1,889.8h0M1516.4,942.5h0M1306.0,989.9h0M1351.1,982.2h0M1497.4,934.7h0M1544.2,945.2h0M1494.0,891.6h0M1518.8,915.0h0M1363.5,964.5h0M1256.8,983.8h0M1540.6,975.6h0M1366.2,957.5h0M1333.2,1009.0h0M1384.2,976.8h0M1320.9,960.6h0M1288.1,1017.1h0M1421.3,912.5h0M1324.0,943.3h0M1474.5,918.9h0M1221.4,985.2h0M1319.6,948.1h0M1383.6,948.1h0M1286.9,960.7h0M1513.6,928.0h0M1526.6,928.8h0M1519.8,986.6h0M1140.2,1050.7h0M1531.3,882.4h0M1398.4,921.2h0M1519.0,983.2h0M1509.5,878.0h0M1381.1,941.8h0M1346.9,941.9h0M1303.8,1014.0h0M1527.3,1016.9h0M1522.7,1011.8h0M1518.0,1056.1h0M1410.7,952.9h0M1294.8,988.2h0M1298.7,996.1h0M1258.9,968.8h0M1302.5,975.0h0M1136.0,1036.7h0M1095.1,1075.9h0M1510.2,1127.7h0M1175.1,1014.5h0M1319.5,1013.5h0M1452.4,921.3h0M1329.7,978.3h0M1521.7,937.1h0M1468.0,927.0h0M1545.5,976.6h0M1288.0,982.3h0M1234.7,972.5h0M1476.7,921.0h0M1079.2,1086.1h0M1287.1,986.6h0M1338.4,950.3h0M1551.9,936.6h0M1486.0,913.4h0M1292.4,988.0h0M1075.0,1085.4h0M1131.2,1053.2h0M1427.2,901.5h0M1428.2,941.6h0M1306.3,1006.7h0M1460.8,944.2h0M1183.1,1006.7h0M1422.1,947.3h0M1251.7,981.2h0M1489.0,915.1h0M1310.7,995.3h0M1511.7,957.5h0M1325.1,1005.0h0M1214.1,1015.8h0M1172.7,1023.5h0M1536.3,912.0h0M1234.2,988.4h0M1468.2,927.7h0M1351.3,951.3h0M1540.9,947.9h0M1512.1,909.4h0M1175.0,1004.8h0M1201.9,1026.9h0M1450.2,938.3h0M1511.0,1101.0h0M1275.0,994.2h0M1168.2,1018.6h0M1397.1,938.1h0M1231.7,1015.9h0M1475.0,914.8h0M1521.0,890.1h0M1382.0,961.7h0M1315.4,993.2h0M1461.3,915.9h0M1542.3,944.5h0M1113.3,1063.4h0M1271.8,969.7h0M1215.8,1015.3h0M1099.6,1072.5h0M1380.6,971.6h0M1500.4,900.2h0M1524.3,891.8h0M1443.3,903.8h0M1289.0,1001.4h0M1487.4,892.5h0M1343.9,978.3h0M1533.0,956.8h0M1177.6,1032.5h0M1491.0,906.8h0M1428.2,921.2h0M1523.8,1038.2h0M1501.2,1164.4h0M1372.3,929.9h0M1389.8,943.1h0M1264.9,980.0h0M1446.1,941.0h0M1280.8,986.9h0M1539.6,996.4h0M1083.0,1081.3h0M1492.8,934.6h0M1523.5,975.6h0M1410.4,933.7h0M1514.7,886.8h0M1518.1,895.7h0M1219.3,993.2h0M1271.9,997.6h0M1521.5,907.4h0M1516.6,887.6h0M1385.5,974.3h0M1531.6,890.9h0M1227.8,1002.0h0M1314.8,977.1h0M1369.9,961.3h0M1494.7,942.6h0M1520.5,1047.3h0M1363.0,972.3h0M1287.5,980.4h0M1511.6,938.1h0M1376.9,977.4h0M1542.1,965.9h0M1405.8,916.1h0M1315.7,982.7h0M1291.3,985.4h0M1126.9,1049.4h0M1533.3,883.3h0M1335.4,961.2h0M1197.9,989.5h0M1394.2,924.9h0M1294.2,1010.9h0M1534.1,954.3h0M1095.6,1063.1h0M1471.5,928.7h0M1296.9,964.6h0M1501.5,882.5h0M1348.2,958.9h0M1264.5,1012.5h0M1188.6,1014.8h0M1549.0,958.0h0M1521.2,882.2h0M1523.9,1027.6h0M1465.3,903.4h0M1321.2,957.2h0M1389.7,940.7h0M1230.7,1015.4h0M1366.7,940.3h0M1372.4,957.3h0M1520.1,978.2h0M1527.4,1012.6h0M1383.8,923.6h0M1544.7,921.8h0M1270.0,1000.4h0M1498.2,924.2h0M1498.9,946.9h0M1140.8,1046.8h0M1459.9,916.5h0M1389.0,938.1h0M1278.7,975.9h0M1512.6,920.2h0M1487.7,926.8h0M1279.4,998.8h0M1521.9,971.4h0M1085.9,1073.9h0M1234.7,987.6h0M1169.6,1008.2h0M1211.7,980.7h0M1260.1,969.3h0M1472.9,899.3h0M1181.7,1019.7h0M1506.4,912.8h0M1475.6,892.4h0M1416.1,919.5h0M1529.2,893.8h0M1332.9,1014.3h0M1225.6,1002.0h0M1496.6,911.9h0M1331.5,958.3h0M1478.3,929.8h0M1417.1,926.6h0M1074.3,1083.4h0M1367.2,936.4h0M1406.3,940.5h0M1236.3,996.2h0M1322.0,1014.0h0M1312.1,1004.2h0M1486.3,895.9h0M1455.6,911.3h0M1308.7,979.9h0M1541.2,905.4h0M1222.0,1015.5h0M1366.3,963.7h0M1326.2,994.0h0M1487.2,883.9h0M1476.4,939.9h0M1399.8,962.9h0M1139.8,1043.5h0M1200.8,1017.9h0M1546.8,917.4h0M1478.2,889.8h0M1513.0,898.1h0M1541.4,948.1h0M1418.2,951.0h0M1536.4,1002.9h0M1507.4,902.6h0M1113.5,1066.5h0M1342.2,987.2h0M1368.5,981.0h0M1352.3,1002.2h0M1361.3,969.3h0M1524.8,1012.7h0M1276.9,977.4h0M1532.6,930.2h0M1522.3,918.7h0M1300.8,973.4h0M1189.5,995.4h0M1283.1,976.8h0M1120.1,1067.3h0M1475.5,899.7h0M1406.0,936.6h0M1506.7,957.2h0M1459.2,935.4h0M1541.0,953.3h0M1520.8,939.5h0M1531.6,899.9h0M1313.9,944.3h0M1257.0,997.6h0M1285.3,963.5h0M1071.6,1089.2h0M1250.1,986.8h0M1396.1,974.1h0M1335.9,990.3h0M1460.4,946.7h0M1426.8,951.4h0M1533.7,946.3h0M1226.5,986.5h0M1344.1,1000.1h0M1104.6,1056.1h0M1285.4,990.5h0M1414.5,955.6h0M1504.9,908.4h0M1521.7,947.3h0M1485.8,931.0h0M1326.1,967.1h0M1441.6,921.2h0M1284.3,1003.3h0M1337.8,964.2h0M1483.0,904.8h0M1513.7,924.0h0M1363.0,977.8h0M1126.3,1042.8h0M1278.1,992.6h0M1500.8,1177.1h0M1484.4,923.8h0M1233.9,984.0h0M1525.2,1009.4h0M1280.0,975.7h0M1510.8,912.3h0M1099.6,1077.7h0M1104.7,1060.7h0M1532.9,981.6h0M1338.6,1006.7h0M1348.6,944.2h0M1304.5,997.9h0M1420.5,955.8h0M1443.0,924.6h0M1406.8,956.2h0M1516.5,969.0h0M1449.9,938.7h0M1468.4,896.5h0M1469.0,899.4h0M1139.0,1046.3h0M1302.8,977.7h0M1211.2,998.0h0M1188.9,975.0h0M1157.9,1006.2h0M1252.4,937.4h0M1303.8,896.3h0M1218.8,956.2h0M1218.7,965.7h0M1231.2,944.8h0M1217.0,962.9h0M1210.4,957.1h0M1283.6,924.5h0M1253.6,948.1h0M1227.1,945.7h0M1226.1,963.5h0M1129.2,1035.0h0M1148.0,1016.6h0M1103.7,1046.5h0M1257.9,942.0h0M1199.3,960.5h0M1484.9,792.6h0M1438.9,862.4h0M1299.1,933.9h0M1438.1,847.9h0M1432.4,856.0h0M1261.8,951.0h0M1417.9,890.8h0M1472.8,852.4h0M1513.7,844.2h0M1443.9,833.2h0M1446.9,829.8h0M1445.5,845.5h0M1300.6,942.8h0M1495.9,853.5h0M1357.1,890.3h0M1368.7,905.1h0M1475.5,800.7h0M1304.6,935.6h0M1506.9,815.3h0M1433.2,853.2h0M1248.7,958.3h0M1309.4,906.9h0M1356.6,922.7h0M1122.5,1041.4h0M1381.8,878.8h0M1512.8,852.7h0M1068.1,1080.0h0M1136.6,1033.2h0M1466.9,819.2h0M1338.5,878.8h0M1496.6,844.2h0M1300.5,933.0h0M1521.9,805.8h0M1321.0,906.1h0M1468.8,842.8h0M1349.9,882.9h0M1413.4,856.4h0M1475.8,861.1h0M1310.8,923.3h0M1437.8,835.3h0M1343.5,882.0h0M1522.8,788.6h0M1474.2,844.4h0M1297.6,939.2h0M1378.4,913.5h0M1398.7,874.9h0M1275.2,951.3h0M1370.8,901.1h0M1435.8,887.5h0M1442.9,841.0h0M1400.1,893.5h0M1447.8,855.5h0M1517.3,789.3h0M1313.7,910.1h0M1358.3,899.1h0M1518.7,870.3h0M1345.2,895.7h0M1399.6,899.9h0M1267.1,959.1h0M1494.6,880.7h0M1184.1,989.9h0M1519.0,799.1h0M1465.6,798.3h0M1320.2,924.1h0M1501.4,794.1h0M1424.0,874.5h0M1421.2,867.3h0M1373.5,889.2h0M1335.7,905.4h0M1487.1,800.0h0M1502.0,809.4h0M1429.7,869.5h0M1085.5,1065.6h0M1416.4,851.4h0M1424.9,884.5h0M1354.2,920.4h0M1289.1,925.2h0M1525.0,852.9h0M1383.9,879.5h0M1386.4,872.8h0M1416.4,848.6h0M1259.4,952.5h0M1508.8,876.2h0M1471.9,878.0h0M1339.8,874.0h0M1441.6,858.8h0M1506.0,873.3h0M1516.7,808.9h0M1467.8,818.2h0M1526.7,860.1h0M1354.0,876.6h0M1457.3,851.5h0M1476.8,875.2h0M1400.6,867.2h0M1472.2,832.5h0M1304.5,906.1h0M1336.5,933.0h0M1393.0,889.5h0M1301.2,927.0h0M1423.8,854.7h0M1484.0,861.8h0M1527.5,833.4h0M1483.4,847.6h0M1346.2,899.5h0M1306.8,928.8h0M1514.6,857.9h0M1523.2,797.0h0M1334.6,880.0h0M1274.8,942.8h0M1302.1,916.8h0M1438.4,880.6h0M1452.2,823.9h0M1384.8,909.0h0M1375.4,878.4h0M1433.3,890.1h0M1250.8,959.3h0M1287.0,950.3h0M1332.3,884.0h0M1499.5,874.1h0M1119.1,1043.5h0M1312.2,889.1h0M1324.4,939.4h0M1394.7,911.2h0M1427.8,877.9h0M1437.6,845.5h0M1324.9,893.0h0M1446.9,849.5h0M1511.0,873.7h0M1432.4,840.4h0M1355.0,921.5h0M1362.1,896.2h0M1522.6,800.0h0M1443.6,870.1h0M1521.1,813.0h0M1485.1,873.5h0M1393.3,898.4h0M1422.3,844.4h0M1329.9,933.6h0M1512.2,785.4h0M1356.0,903.8h0M1384.4,876.4h0M1344.9,926.5h0M1460.9,884.6h0M1444.5,842.6h0M1464.2,852.3h0M1502.7,779.2h0M1297.4,940.2h0M1474.3,857.4h0M1520.8,803.4h0M1157.1,1021.4h0M1494.1,822.4h0M1315.6,900.5h0M1412.8,879.3h0M1259.7,954.2h0M1417.0,903.2h0M1460.3,848.7h0M1520.9,798.1h0M1368.0,905.4h0M1409.9,852.9h0M1496.9,870.9h0M1309.0,896.8h0M1443.6,887.4h0M1397.6,875.6h0M1506.1,788.5h0M1412.8,891.1h0M1372.5,888.2h0M1466.8,805.8h0M1426.1,865.0h0M1448.9,866.1h0M1383.0,882.8h0M1338.3,887.8h0M1310.8,928.9h0M1136.0,1032.8h0M1513.6,819.5h0M1471.3,797.2h0M1474.3,795.0h0M1461.8,884.0h0M1236.8,966.2h0M1411.9,854.7h0M1433.3,860.9h0M1489.3,866.6h0M1381.1,911.4h0M1471.5,826.0h0M1471.5,799.9h0M1495.7,874.5h0M1469.2,804.8h0M1512.8,812.0h0M1295.9,940.4h0M1072.3,1076.0h0M1501.6,858.0h0M1474.1,800.3h0M1086.9,1065.3h0M1445.5,828.6h0M1527.8,828.3h0M1503.3,846.4h0M1185.1,988.5h0M1378.0,870.8h0M1254.1,964.1h0M1321.6,887.9h0M1483.6,826.1h0M1517.9,828.2h0M1469.4,817.3h0M1406.7,888.7h0M1465.1,882.5h0M1506.4,852.9h0M1422.0,856.3h0M1306.8,905.7h0M1311.7,901.6h0M1315.6,909.7h0M1511.3,868.2h0M1492.6,806.9h0M1466.1,878.3h0M1292.7,922.3h0M1350.0,917.8h0M1451.0,860.7h0M1472.5,846.2h0M1356.1,890.0h0M1490.6,870.1h0M1443.9,832.7h0M1314.7,914.8h0M1480.0,826.9h0M1502.9,803.1h0M1461.9,870.5h0M1365.1,887.4h0M1354.3,921.2h0M1511.1,809.8h0M1265.4,949.4h0M1301.0,921.9h0M1328.5,907.3h0M1471.9,827.6h0M1456.1,874.5h0M1523.8,814.8h0M1477.1,880.9h0M1379.7,876.1h0M1360.6,885.2h0M1484.5,881.6h0M1387.5,875.1h0M1511.2,806.5h0M1396.9,874.0h0M1507.6,816.3h0M1480.5,854.6h0M1509.3,839.4h0M1397.9,897.2h0M1462.9,813.7h0M1495.6,874.4h0M1472.1,856.8h0M1331.9,923.6h0M1311.4,898.8h0M1370.7,917.5h0M1348.0,881.9h0M1434.9,875.6h0M1487.0,852.6h0M1477.0,865.9h0M1455.9,852.0h0M1491.1,824.3h0M1353.4,905.9h0M1444.8,842.5h0M1342.6,913.7h0M1387.2,879.6h0M1340.0,922.7h0M1332.7,875.6h0M1517.0,851.5h0M1502.4,787.1h0M1523.5,797.0h0M1422.3,851.9h0M1387.8,905.7h0M1239.6,963.2h0M1404.5,909.6h0M1280.6,953.7h0M1248.0,961.5h0M1399.7,882.8h0M1296.9,929.7h0M1448.6,888.7h0M1476.8,803.4h0M1454.8,812.8h0M1415.6,902.0h0M1375.9,882.4h0M1351.1,909.4h0M1355.2,874.1h0M1524.8,803.9h0M1332.4,879.9h0M1352.2,914.2h0M1504.0,818.3h0M1276.0,959.5h0M1473.3,847.9h0M1517.0,872.0h0M1526.9,797.1h0M1455.2,875.4h0M1501.1,877.7h0M1326.1,906.8h0M1386.4,894.7h0M1381.6,918.2h0M1433.0,894.3h0M1512.7,806.0h0M1467.3,833.0h0M1341.0,879.6h0M1293.9,914.3h0M1413.3,890.5h0M1464.9,805.8h0M1471.1,820.7h0M1472.1,803.1h0M1454.0,864.8h0M1451.7,867.5h0M1397.5,886.6h0M1483.9,857.2h0M1326.2,882.0h0M1501.5,782.6h0M1465.8,822.5h0M1469.4,804.4h0M1261.3,952.5h0M1427.3,852.9h0M1402.0,896.6h0M1320.9,901.0h0M1477.1,863.9h0M1525.4,795.4h0M1370.3,880.3h0M1513.3,823.4h0M1526.6,805.6h0M1423.8,861.4h0M1434.8,880.6h0M1491.2,881.1h0M1322.2,934.6h0M1426.5,849.7h0M1387.1,885.7h0M1491.0,845.0h0M1436.8,850.6h0M1305.1,913.2h0M1310.6,915.8h0M1462.2,880.4h0M1346.9,873.2h0M1402.8,910.7h0M1411.4,852.6h0M1370.4,914.9h0M1271.4,958.1h0M1489.5,820.8h0M1372.9,893.1h0M1074.7,1073.0h0M1449.2,879.7h0M1440.3,862.0h0M1448.8,854.0h0M1311.1,891.9h0M1320.1,878.0h0M1444.1,885.4h0M1278.4,947.8h0M1450.9,866.1h0M1519.4,815.4h0M1265.2,956.6h0M1319.7,879.9h0M1334.9,896.4h0M1460.1,841.1h0M1449.0,836.1h0M1591.4,898.0h0M1592.5,846.9h0M1556.1,963.6h0M1534.7,876.8h0M1550.1,882.5h0M1541.3,833.7h0M1592.0,826.7h0M1553.1,919.4h0M1529.0,841.7h0M1548.4,847.6h0M1578.3,963.3h0M1548.0,866.0h0M1555.5,783.8h0M1571.8,792.9h0M1531.6,818.7h0M1551.9,920.5h0M1573.3,925.1h0M1541.7,853.1h0M1565.3,941.4h0M1591.6,890.9h0M1578.7,911.7h0M1567.7,909.4h0M1528.6,877.1h0M1575.7,848.4h0M1539.8,826.3h0M1561.1,902.8h0M1583.1,824.0h0M1589.8,940.8h0M1577.1,891.9h0M1582.8,834.8h0M1571.6,776.3h0M1582.1,853.1h0M1538.6,870.4h0M1563.6,845.8h0M1577.6,842.8h0M1564.6,837.3h0M1562.0,856.3h0M1532.8,853.8h0M1558.3,879.2h0M1538.8,854.8h0M1582.9,793.3h0M1571.7,873.6h0M1582.1,873.8h0M1583.2,862.6h0M1570.1,913.6h0M1575.0,780.9h0M1536.1,812.2h0M1551.5,773.6h0M1589.2,933.9h0M1566.0,957.7h0M1559.1,897.6h0M1548.1,863.2h0M1568.1,812.6h0M1542.7,859.5h0M1564.8,965.2h0M1556.5,796.6h0M1552.8,801.2h0M1539.4,817.3h0M1553.3,850.8h0M1590.9,941.3h0M1586.9,860.0h0M1546.4,852.1h0M1586.3,781.4h0M1592.7,763.6h0M1549.7,774.8h0M1542.5,772.5h0M1592.6,900.6h0M1552.8,773.1h0M1591.1,788.3h0M1585.8,840.1h0M1549.9,866.3h0M1569.4,910.6h0M1544.6,850.0h0M1543.6,782.7h0M1566.3,837.0h0M1582.1,803.0h0M1584.0,840.3h0M1536.8,840.3h0M1571.9,865.9h0M1563.9,818.6h0M1544.1,784.9h0M1553.5,774.9h0M1584.1,909.7h0M1584.6,865.8h0M1582.9,834.3h0M1538.0,842.0h0M1594.0,822.1h0M1569.6,845.5h0M1576.4,867.7h0M1586.3,936.3h0M1538.0,842.2h0M1588.5,842.2h0M1565.9,877.9h0M1544.2,900.1h0M1561.6,816.3h0M1571.3,954.6h0M1590.7,786.2h0M1573.5,789.0h0M1542.8,772.3h0M1574.6,827.3h0M1536.0,858.0h0M1535.5,792.6h0M1593.3,840.2h0M1581.6,867.5h0M1539.6,843.9h0M1581.8,916.3h0M1581.5,950.1h0M1533.5,792.3h0M1559.3,857.9h0M1584.7,838.7h0M1552.3,975.0h0M1576.6,872.7h0M1576.9,839.5h0M1579.1,883.6h0M1548.6,851.6h0M1556.6,765.8h0M1573.1,894.3h0M1531.6,806.1h0M1567.9,915.1h0M1576.8,939.4h0M1564.9,891.5h0M1582.1,843.0h0M1572.4,814.5h0M1568.2,959.7h0M1553.4,923.1h0M1589.9,911.5h0M1571.0,901.2h0M1647.4,863.6h0M1656.3,881.0h0M1619.0,822.1h0M1614.3,808.7h0M1631.8,843.9h0M1624.0,767.1h0M1604.9,812.7h0M1630.0,910.2h0M1603.6,761.7h0M1623.4,926.0h0M1610.4,916.9h0M1639.8,772.1h0M1633.2,883.9h0M1617.6,786.5h0M1615.0,860.8h0M1640.4,873.7h0M1619.5,874.3h0M1616.4,841.8h0M1649.9,839.8h0M1615.0,850.4h0M1609.5,768.5h0M1636.7,915.4h0M1610.0,924.3h0M1625.7,913.5h0M1600.6,825.0h0M1636.3,768.9h0M1645.9,926.9h0M1600.3,849.8h0M1636.0,863.6h0M1653.1,781.1h0M1651.7,789.2h0M1622.0,797.0h0M1613.1,844.4h0M1648.8,931.1h0M1631.3,842.4h0M1631.4,933.8h0M1632.4,763.1h0M1623.3,808.2h0M1626.4,910.3h0M1643.1,855.1h0M1609.9,896.2h0M1620.2,769.1h0M1633.4,855.1h0M1603.9,817.5h0M1625.5,901.1h0M1617.3,936.8h0M1596.0,941.1h0M1639.2,833.6h0M1607.7,932.9h0M1632.1,843.7h0M1597.3,795.9h0M1622.8,820.8h0M1613.6,916.2h0M1616.4,935.3h0M1635.9,921.0h0M1641.0,843.7h0M1602.8,928.1h0M1659.8,849.4h0M1647.1,872.1h0M1637.4,760.8h0M1635.8,803.4h0M1623.7,876.0h0M1637.9,908.1h0M1646.6,820.8h0M1598.9,770.7h0M1614.4,903.8h0M1637.3,769.9h0M1601.0,940.7h0M1618.9,839.5h0M1597.7,871.6h0M1631.6,907.2h0M1627.2,936.1h0M1598.4,951.3h0M1624.5,871.1h0M1605.3,771.4h0M1624.4,846.6h0M1597.8,923.5h0M1443.9,815.3h0M1507.2,764.4h0M1466.4,772.3h0M1439.4,762.0h0M1442.6,765.1h0M1437.7,802.4h0M1514.0,767.5h0M1473.3,779.9h0M1656.1,756.7h0M1441.2,770.6h0M1451.1,776.4h0M1468.4,777.8h0M1462.3,781.9h0M1487.7,775.8h0M1476.7,769.4h0M1512.8,769.3h0M1474.1,785.5h0M1447.3,791.5h0M1479.9,763.7h0M1655.8,757.1h0M1534.7,755.9h0M1542.7,765.1h0M1452.4,794.2h0M1462.7,785.9h0M1550.1,1042.8h0M1569.0,1162.8h0M1546.8,1071.6h0M1528.6,1193.6h0M1582.3,1112.6h0M1493.0,1216.9h0M1561.3,1066.0h0M1577.8,1167.1h0M1535.5,1141.9h0M1576.9,1058.8h0M1554.8,1064.3h0M1573.6,1170.6h0M1541.8,1095.9h0M1549.7,1157.8h0M1572.1,1096.8h0M1556.3,1043.1h0M1585.9,1178.1h0M1513.6,1131.2h0M1564.3,1095.8h0M1568.1,1030.9h0M1577.8,1167.6h0M1573.8,1098.0h0M1525.4,1108.9h0M1554.2,1110.0h0M1586.1,1090.4h0M1563.6,1060.4h0M1538.5,1077.9h0M1528.3,1089.4h0M1530.1,1154.6h0M1561.4,1145.5h0M1505.8,1186.6h0M1495.9,1200.9h0M1587.8,1059.9h0M1567.6,1043.8h0M1586.8,1159.0h0M1556.9,1067.6h0M1526.5,1197.0h0M1550.2,1060.0h0M1523.6,1085.9h0M1553.1,1142.1h0M1568.3,1138.9h0M1532.0,1095.2h0M1519.8,1148.7h0M1555.0,1168.5h0M1530.7,1186.1h0M1500.3,1209.4h0M1549.3,1119.1h0M1569.8,1089.6h0M1532.2,1064.0h0M1542.1,1188.5h0M1510.2,1182.2h0M1557.5,1158.1h0M1551.8,1056.7h0M1533.4,1186.9h0M1587.5,1039.7h0M1539.2,1097.4h0M1565.4,1099.6h0M1546.0,1099.6h0M1563.6,1127.9h0M1562.4,1167.5h0M1528.4,1092.0h0M1525.9,1067.5h0M1536.5,1182.4h0M1545.6,1137.3h0M1512.0,1159.5h0M1554.1,1068.9h0M1563.0,1102.8h0M1566.2,1133.4h0M1526.5,1145.5h0M1512.4,1151.6h0M1585.8,1074.9h0M1572.9,1050.0h0M1539.0,1097.2h0M1529.8,1123.7h0M1515.6,1141.7h0M1560.9,1116.0h0M1540.6,1056.9h0M1533.5,1102.4h0M1492.5,1204.8h0M1543.6,1064.6h0M1582.6,1175.9h0M1582.7,1093.9h0M1559.6,1163.2h0M1545.9,1169.8h0M1584.7,1179.5h0M1520.7,1135.3h0M1552.1,1192.5h0M1541.1,1195.2h0M1556.9,1088.5h0M1522.9,1124.0h0M1515.6,1110.6h0M1593.8,1177.9h0M1538.1,1117.0h0M1578.2,1172.1h0M1537.4,1125.0h0M1556.5,1138.3h0M1572.4,1068.5h0M1521.2,1094.2h0M1557.2,1181.6h0M1538.0,1056.7h0M1544.1,1113.2h0M1565.0,1043.8h0M1553.5,1045.3h0M1556.7,1097.5h0M1552.6,1113.0h0M1579.8,1067.4h0M1583.2,1145.4h0M1527.2,1177.0h0M1578.1,1114.0h0M1586.1,1165.9h0M1556.8,1106.1h0M1559.7,1074.3h0M1526.1,1102.3h0M1577.3,1126.0h0M1545.5,1098.8h0M1575.3,1156.7h0M1556.4,1144.0h0M1555.3,1062.5h0M1583.6,1088.3h0M1565.0,1098.9h0M1574.7,1113.3h0M1544.0,1082.1h0M1548.6,1168.7h0M1521.5,1135.4h0M1561.8,1041.1h0M1521.8,1150.6h0M1571.7,1175.5h0M1575.4,1047.3h0M1559.1,1175.5h0M1580.8,1046.8h0M1539.0,1169.5h0M1593.8,1167.9h0M1567.0,1045.2h0M1577.9,1108.5h0M1527.5,1166.0h0M1519.0,1139.8h0M1559.1,1086.2h0M1560.5,1193.1h0M1571.7,1168.8h0M1573.0,1050.3h0M1496.0,1206.8h0M1528.2,1141.8h0M1529.3,1119.1h0M1550.0,1198.0h0M1531.4,1083.3h0M1574.4,1116.7h0M1561.3,1082.1h0M1563.6,1055.6h0M1526.7,1147.3h0M1523.7,1127.4h0M1627.7,1122.1h0M1625.6,1140.9h0M1639.8,1043.0h0M1658.3,1087.7h0M1635.6,1077.1h0M1622.9,1020.3h0M1616.7,1127.3h0M1644.5,1095.6h0M1605.8,1036.4h0M1635.3,1007.8h0M1600.1,1036.8h0M1647.5,1091.6h0M1599.3,1157.0h0M1654.1,1083.2h0M1605.1,1105.5h0M1602.6,1091.1h0M1633.2,1126.5h0M1601.3,1015.0h0M1657.1,1089.8h0M1637.1,1101.7h0M1637.4,1129.6h0M1640.5,1108.2h0M1622.0,1053.6h0M1601.8,1135.3h0M1633.7,1056.8h0M1624.1,1116.3h0M1604.8,1162.5h0M1659.7,1079.5h0M1644.7,1110.7h0M1658.5,1008.8h0M1613.8,1008.8h0M1621.1,1116.6h0M1631.7,1039.1h0M1616.0,1154.9h0M1597.9,1014.0h0M1649.3,1011.2h0M1612.8,1011.5h0M1648.6,1000.1h0M1616.6,1093.1h0M1652.7,1062.6h0M1602.7,1165.6h0M1613.8,1010.0h0M1596.4,1046.5h0M1644.9,1047.3h0M1630.0,1052.8h0M1619.9,1130.6h0M1610.8,1160.6h0M1624.9,1017.0h0M1633.5,990.1h0M1658.5,987.1h0M1658.0,1017.1h0M1659.6,1056.5h0M1621.6,1022.7h0M1647.3,1119.3h0M1609.0,1122.7h0M1609.1,1027.1h0M1600.4,1101.7h0M1628.6,1099.3h0M1603.3,1081.9h0M1620.0,1124.0h0M1631.8,1106.5h0M1618.8,1096.3h0M1607.5,1086.4h0M1605.4,1119.2h0M1650.0,1036.1h0M1604.8,1099.2h0M1657.2,1012.2h0M1597.3,1070.2h0M1601.5,1061.0h0M1659.8,989.1h0M712.6,1515.6h0M852.7,1508.7h0M741.5,1542.9h0M704.2,1490.1h0M773.3,1563.3h0M812.7,1521.4h0M773.2,1483.6h0M776.6,1506.5h0M738.3,1558.4h0M846.1,1515.2h0M800.3,1518.4h0M828.8,1548.5h0M773.9,1546.7h0M729.4,1505.7h0M853.5,1521.4h0M830.1,1478.0h0M734.8,1486.9h0M707.4,1476.3h0M754.7,1494.9h0M815.1,1521.0h0M814.1,1535.0h0M769.5,1483.5h0M855.7,1523.8h0M754.6,1565.2h0M747.4,1544.2h0M789.5,1528.0h0M777.9,1543.5h0M820.8,1481.3h0M703.7,1514.3h0M794.3,1484.9h0M838.1,1548.5h0M804.2,1533.2h0M827.6,1481.7h0M817.0,1527.0h0M769.4,1551.0h0M741.7,1531.4h0M765.8,1528.9h0M740.4,1547.7h0M780.4,1501.2h0M770.8,1561.3h0M861.5,1527.4h0M827.2,1517.8h0M843.7,1547.6h0M698.4,1470.9h0M734.6,1495.3h0M727.9,1510.2h0M831.4,1502.1h0M773.3,1544.1h0M765.9,1549.2h0M754.1,1539.8h0M781.0,1493.5h0M788.8,1542.8h0M805.1,1520.0h0M802.9,1489.5h0M799.2,1517.1h0M851.0,1517.8h0M705.8,1471.4h0M834.4,1553.3h0M730.3,1500.5h0M783.3,1525.8h0M814.2,1496.1h0M729.4,1490.0h0M740.3,1501.9h0M817.5,1483.7h0M831.5,1537.0h0M728.1,1524.5h0M726.9,1512.3h0M691.6,1489.6h0M713.5,1527.9h0M805.8,1541.9h0M747.1,1534.6h0M822.8,1516.8h0M854.8,1540.7h0M751.6,1508.7h0M756.1,1483.9h0M854.4,1501.3h0M775.5,1520.9h0M792.5,1490.9h0M820.1,1549.1h0M755.2,1550.9h0M833.0,1523.1h0M857.0,1525.3h0M715.8,1504.9h0M786.5,1512.2h0M805.3,1546.7h0M766.9,1488.5h0M821.8,1501.5h0M739.9,1547.7h0M707.9,1498.9h0M764.0,1549.5h0M774.4,1496.5h0M813.6,1528.6h0M739.9,1515.5h0M847.3,1551.8h0M779.7,1519.1h0M838.7,1496.0h0M747.2,1508.3h0M773.9,1500.9h0M699.3,1469.3h0M849.2,1547.1h0M768.6,1537.8h0M853.5,1538.7h0M754.1,1507.6h0M737.5,1551.7h0M722.1,1516.4h0M865.1,1532.4h0M799.2,1550.3h0M735.5,1498.0h0M733.4,1483.0h0M839.5,1521.9h0M740.8,1512.1h0M763.6,1539.0h0M784.8,1544.3h0M697.4,1494.2h0M806.5,1525.6h0M844.4,1514.0h0M706.5,1490.0h0M801.0,1504.2h0M838.2,1528.8h0M777.6,1517.7h0M770.3,1510.5h0M728.7,1525.9h0M854.7,1499.3h0M785.5,1558.7h0M721.7,1500.1h0M846.4,1510.5h0M739.9,1563.0h0M849.4,1507.5h0M802.5,1500.5h0M851.9,1537.1h0M787.6,1546.6h0M730.9,1499.0h0M841.4,1548.8h0M788.4,1559.0h0M801.9,1494.1h0M781.4,1521.3h0M758.7,1528.1h0M756.3,1522.5h0M828.4,1513.1h0M766.3,1519.5h0M755.9,1554.9h0M1098.8,1427.5h0M1424.4,1266.0h0M1139.7,1421.2h0M1113.8,1433.1h0M1199.8,1383.9h0M1141.3,1410.8h0M1488.6,1231.5h0M1427.5,1269.6h0M1334.8,1297.0h0M1062.5,1462.3h0M1209.8,1387.0h0M1128.9,1406.2h0M1478.7,1241.9h0M1173.9,1408.8h0M1240.0,1358.2h0M1390.2,1284.1h0M1111.7,1417.4h0M1096.9,1432.4h0M1317.3,1327.6h0M1144.4,1403.0h0M1260.2,1335.0h0M1308.0,1330.5h0M1447.2,1240.6h0M1177.3,1406.5h0M1213.7,1385.0h0M1444.7,1251.8h0M1277.1,1348.5h0M1125.6,1408.4h0M1285.7,1344.6h0M1298.0,1336.2h0M1283.8,1333.8h0M1280.3,1346.0h0M1149.8,1401.2h0M1184.0,1379.9h0M1167.4,1399.3h0M1318.3,1322.5h0M1196.8,1380.0h0M1172.4,1404.1h0M1265.0,1350.6h0M1484.3,1231.4h0M1328.2,1306.0h0M1258.5,1357.1h0M1281.5,1330.3h0M1256.7,1346.4h0M1315.5,1334.6h0M1071.6,1435.9h0M1165.7,1391.1h0M1148.4,1419.4h0M1461.9,1234.7h0M1206.9,1373.3h0M1094.6,1444.8h0M1210.3,1372.9h0M1241.3,1345.3h0M1262.9,1342.2h0M1238.3,1351.1h0M1125.1,1424.0h0M1257.0,1357.7h0M1179.9,1395.8h0M1232.1,1356.4h0M1320.4,1322.0h0M1472.3,1238.4h0M1290.5,1322.9h0M1325.4,1315.4h0M1276.0,1343.3h0M1353.5,1290.1h0M1278.5,1351.6h0M1087.4,1450.2h0M1449.6,1253.8h0M1409.6,1280.3h0M1284.3,1330.8h0M1081.9,1440.5h0M1332.0,1319.3h0M1377.0,1295.5h0M1159.0,1401.1h0M1398.9,1278.5h0M1221.2,1362.7h0M1341.6,1315.3h0M1082.8,1441.0h0M1466.6,1248.7h0M1325.5,1300.1h0M1124.6,1411.9h0M1087.0,1429.5h0M1110.1,1440.1h0M1462.2,1249.1h0M1119.7,1420.2h0M1315.7,1330.2h0M1068.6,1444.2h0M1421.0,1262.7h0M1438.2,1253.0h0M1200.1,1372.6h0M1075.7,1461.8h0M1194.4,1399.1h0M1132.8,1412.2h0M1213.3,1378.0h0M1256.7,1342.2h0M1203.1,1363.3h0M1106.2,1444.8h0M1396.0,1282.1h0M1116.9,1415.3h0M1181.8,1382.8h0M882.0,1560.7h0M908.0,1568.6h0M912.5,1548.1h0M911.3,1556.8h0M902.0,1553.4h0M901.0,1552.6h0M882.6,1544.2h0M895.0,1562.6h0M888.1,1578.1h0M895.6,1586.4h0M886.7,1591.0h0M879.1,1561.2h0M879.4,1579.1h0M897.6,1579.5h0M909.9,1556.6h0M871.3,1553.8h0M874.7,1557.9h0M907.8,1555.9h0M866.0,1549.1h0M883.8,1554.1h0M865.0,1553.1h0M891.5,1598.3h0M875.4,1531.3h0M860.9,1527.2h0M909.7,1546.8h0M889.0,1607.6h0M856.4,1537.8h0M902.3,1561.6h0M907.5,1552.5h0M904.4,1562.7h0M884.0,1590.9h0M871.5,1530.9h0M868.9,1521.6h0M892.1,1601.4h0M887.2,1588.6h0M870.9,1551.3h0M879.5,1601.7h0M879.9,1561.1h0M878.8,1561.1h0M913.6,1538.8h0M916.6,1539.2h0M886.3,1552.4h0M887.2,1563.8h0M865.4,1553.8h0M907.9,1572.3h0M894.0,1550.5h0M885.4,1596.0h0M872.3,1538.0h0M904.4,1568.4h0M904.6,1556.2h0M882.7,1586.2h0M893.1,1558.3h0"/>
</g>
<g id="axes" stroke="#262626" stroke-width="2.7" fill="none">
<rect x="460.8" y="48.7" width="1970.1" height="1974.9"/>
</g>
<g id="ticklabels" class="tk">
<text transform="translate(459.5,2124.6) scale(1,1.03)" text-anchor="middle">0.05</text>
<text transform="translate(922.6,2124.6) scale(1,1.03)" text-anchor="middle">0.14</text>
<text transform="translate(1482.7,2124.6) scale(1,1.03)" text-anchor="middle">0.5</text>
<text transform="translate(1773.5,2124.6) scale(1,1.03)" text-anchor="middle">1</text>
<text transform="translate(2084.5,2124.6) scale(1,1.03)" text-anchor="middle">2</text>
<text transform="translate(2266.5,2124.6) scale(1,1.03)" text-anchor="middle">3</text>
<text transform="translate(313,78.0) scale(1,1.03)" text-anchor="middle">0.1</text>
<text transform="translate(313,734.4) scale(1,1.03)" text-anchor="middle">0.01</text>
<text transform="translate(310,1394.0) scale(1,1.03)" text-anchor="middle">0.001</text>
<text transform="translate(310.4,2051.2) scale(1,1.03)" text-anchor="middle">0.0001</text>
</g>
<g id="axislabels" class="lb">
<text transform="translate(1161.4,2258.2) scale(1,1.03)">Chl-a (mg m<tspan x="475.4" dy="-42.5" font-size="69">-3</tspan><tspan x="538.6" dy="42.5">)</tspan></text>
<text transform="translate(118.4,1303.6) rotate(-90) scale(1,1.03)">b<tspan x="52.7" dy="40.8" font-size="68">bp</tspan><tspan x="129.6" dy="-40.8" letter-spacing="-1.2">(555)</tspan><tspan x="345.7">(m</tspan><tspan x="443.2" dy="-42.3" font-size="68">-1</tspan><tspan x="506" dy="42.3">)</tspan></text>
</g>
<g id="legend">
<circle cx="517.8" cy="207.9" r="7" fill="#000"/>
<path d="M558,207.9H774.3" stroke="#000" stroke-width="11" fill="none"/>
<path d="M558,543H774.3" stroke="#000" stroke-width="11" stroke-dasharray="42.5 42.5" fill="none"/>
<g class="lg">
<text transform="translate(853,230.3) scale(1,1.02)">OC-CCI data</text>
<text transform="translate(556.2,334.6) scale(1,1.02)">b<tspan dx="3.8" dy="31.4" font-size="54" letter-spacing="1.6">bp</tspan><tspan x="104.5" dy="-31.4" letter-spacing="-2.2">(555)</tspan><tspan x="250.2"> = 0.005*Chl-a + 0.00056</tspan></text>
<text transform="translate(556.2,458.3) scale(1,1.02)">R<tspan dx="-1.4" dy="-31.4" font-size="54">2</tspan><tspan dx="3.1" dy="31.4">=0.51, N=979100</tspan></text>
<text transform="translate(851.3,566.4) scale(1,1.02)">Behrenfeld et al.2005</text>
</g></g>
</svg>
</body></html>
